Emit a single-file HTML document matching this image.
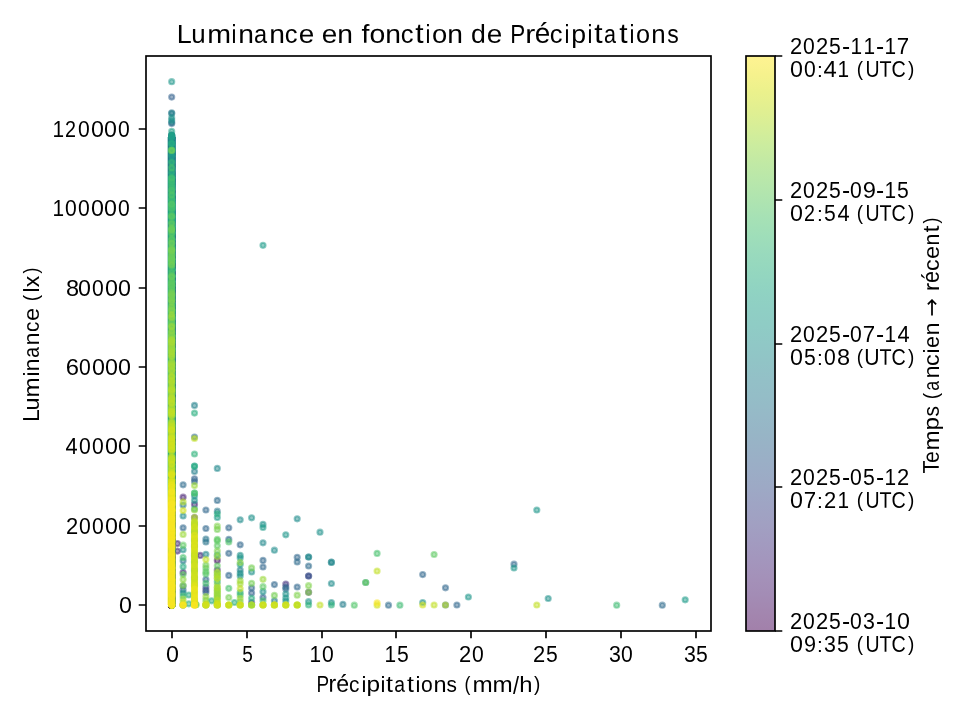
<!DOCTYPE html>
<html lang="fr"><head><meta charset="utf-8"><title>Luminance en fonction de Précipitations</title>
<style>html,body{margin:0;padding:0;background:#fff;overflow:hidden}svg{display:block}text{font-family:"Liberation Sans",sans-serif;fill:#000}</style></head><body>
<svg width="960" height="720" viewBox="0 0 960 720" style="will-change:transform">
<rect width="960" height="720" fill="#fff"/>
<defs><linearGradient id="vg" x1="0" y1="0" x2="0" y2="1"><stop offset="0.0000" stop-color="#fef392"/><stop offset="0.0312" stop-color="#f6f28d"/><stop offset="0.0625" stop-color="#ebf18c"/><stop offset="0.0938" stop-color="#e1ef91"/><stop offset="0.1250" stop-color="#d6ee98"/><stop offset="0.1562" stop-color="#cbec9f"/><stop offset="0.1875" stop-color="#c1e9a5"/><stop offset="0.2188" stop-color="#b8e7ab"/><stop offset="0.2500" stop-color="#afe4b0"/><stop offset="0.2812" stop-color="#a6e1b5"/><stop offset="0.3125" stop-color="#9fdeb9"/><stop offset="0.3438" stop-color="#99dabd"/><stop offset="0.3750" stop-color="#94d7bf"/><stop offset="0.4062" stop-color="#90d3c2"/><stop offset="0.4375" stop-color="#8fcfc4"/><stop offset="0.4688" stop-color="#8fccc5"/><stop offset="0.5000" stop-color="#90c8c6"/><stop offset="0.5312" stop-color="#91c4c6"/><stop offset="0.5625" stop-color="#93c0c7"/><stop offset="0.5938" stop-color="#94bdc7"/><stop offset="0.6250" stop-color="#96b9c7"/><stop offset="0.6562" stop-color="#97b5c6"/><stop offset="0.6875" stop-color="#99b1c6"/><stop offset="0.7188" stop-color="#9badc6"/><stop offset="0.7500" stop-color="#9da9c5"/><stop offset="0.7812" stop-color="#9fa4c4"/><stop offset="0.8125" stop-color="#a1a0c2"/><stop offset="0.8438" stop-color="#a29bc0"/><stop offset="0.8750" stop-color="#a396bd"/><stop offset="0.9062" stop-color="#a491b9"/><stop offset="0.9375" stop-color="#a38cb5"/><stop offset="0.9688" stop-color="#a386af"/><stop offset="1.0000" stop-color="#a280aa"/></linearGradient>
<clipPath id="axclip"><rect x="146" y="56" width="565" height="575"/></clipPath></defs>
<g id="pts" clip-path="url(#axclip)">
<linearGradient id="ul" gradientUnits="userSpaceOnUse" x1="0" y1="134" x2="0" y2="605"><stop offset="0.0000" stop-color="#21918c"/><stop offset="0.1401" stop-color="#1e9c89"/><stop offset="0.3524" stop-color="#26ad81"/><stop offset="0.5648" stop-color="#3bbb75"/><stop offset="0.7452" stop-color="#4ec36b"/><stop offset="0.7834" stop-color="#dfe318"/><stop offset="0.7983" stop-color="#fde725"/><stop offset="1.0000" stop-color="#fde725"/></linearGradient><rect x="167.65" y="137" width="8.2" height="468" fill="url(#ul)"/><g fill-opacity="0.5" stroke-opacity="0.5" stroke-width="2.083"><g fill="#450457" stroke="#450457"><circle cx="171.7" cy="605.0" r="2.55"/><circle cx="171.7" cy="474.6" r="2.55"/><circle cx="171.7" cy="383.4" r="2.55"/><circle cx="171.7" cy="371.8" r="2.55"/><circle cx="171.7" cy="327.1" r="2.55"/><circle cx="171.7" cy="396.8" r="2.55"/><circle cx="171.7" cy="535.3" r="2.55"/><circle cx="171.7" cy="302.4" r="2.55"/><circle cx="171.7" cy="444.5" r="2.55"/><circle cx="171.7" cy="481.8" r="2.55"/><circle cx="171.7" cy="309.7" r="2.55"/><circle cx="171.7" cy="385.6" r="2.55"/><circle cx="171.7" cy="575.9" r="2.55"/><circle cx="171.7" cy="603.2" r="2.55"/><circle cx="171.7" cy="558.3" r="2.55"/><circle cx="171.7" cy="345.0" r="2.55"/><circle cx="171.7" cy="531.1" r="2.55"/><circle cx="171.7" cy="432.6" r="2.55"/><circle cx="171.7" cy="344.2" r="2.55"/><circle cx="171.7" cy="440.6" r="2.55"/><circle cx="171.7" cy="580.6" r="2.55"/><circle cx="171.7" cy="566.0" r="2.55"/><circle cx="171.7" cy="411.7" r="2.55"/><circle cx="171.7" cy="307.4" r="2.55"/><circle cx="171.7" cy="573.3" r="2.55"/><circle cx="171.7" cy="600.6" r="2.55"/><circle cx="171.7" cy="449.2" r="2.55"/><circle cx="171.7" cy="357.8" r="2.55"/><circle cx="171.7" cy="459.3" r="2.55"/><circle cx="171.7" cy="507.8" r="2.55"/><circle cx="171.7" cy="439.3" r="2.55"/><circle cx="171.7" cy="397.7" r="2.55"/><circle cx="171.7" cy="364.0" r="2.55"/><circle cx="171.7" cy="378.6" r="2.55"/><circle cx="171.7" cy="299.0" r="2.55"/><circle cx="171.7" cy="364.8" r="2.55"/><circle cx="171.7" cy="589.9" r="2.55"/><circle cx="171.7" cy="284.3" r="2.55"/><circle cx="171.7" cy="516.8" r="2.55"/><circle cx="171.7" cy="536.7" r="2.55"/><circle cx="171.7" cy="412.1" r="2.55"/><circle cx="171.7" cy="473.5" r="2.55"/></g><g fill="#460b5e" stroke="#460b5e"><circle cx="171.7" cy="351.6" r="2.55"/><circle cx="171.7" cy="496.8" r="2.55"/><circle cx="171.7" cy="509.6" r="2.55"/><circle cx="171.7" cy="518.1" r="2.55"/><circle cx="171.7" cy="438.5" r="2.55"/><circle cx="171.7" cy="595.3" r="2.55"/><circle cx="171.7" cy="561.0" r="2.55"/><circle cx="171.7" cy="464.1" r="2.55"/><circle cx="171.7" cy="500.2" r="2.55"/><circle cx="171.7" cy="365.5" r="2.55"/><circle cx="171.7" cy="586.4" r="2.55"/><circle cx="171.7" cy="605.0" r="2.55"/><circle cx="171.7" cy="487.6" r="2.55"/><circle cx="171.7" cy="570.2" r="2.55"/><circle cx="171.7" cy="369.0" r="2.55"/><circle cx="171.7" cy="599.1" r="2.55"/><circle cx="171.7" cy="306.1" r="2.55"/><circle cx="171.7" cy="447.7" r="2.55"/><circle cx="171.7" cy="306.8" r="2.55"/><circle cx="171.7" cy="333.3" r="2.55"/><circle cx="171.7" cy="525.8" r="2.55"/><circle cx="171.7" cy="290.4" r="2.55"/><circle cx="171.7" cy="396.7" r="2.55"/><circle cx="171.7" cy="332.1" r="2.55"/><circle cx="171.7" cy="554.4" r="2.55"/><circle cx="171.7" cy="294.8" r="2.55"/><circle cx="171.7" cy="380.7" r="2.55"/><circle cx="171.7" cy="556.4" r="2.55"/><circle cx="171.7" cy="498.9" r="2.55"/><circle cx="171.7" cy="504.4" r="2.55"/><circle cx="171.7" cy="602.0" r="2.55"/><circle cx="171.7" cy="272.8" r="2.55"/><circle cx="171.7" cy="491.0" r="2.55"/><circle cx="171.7" cy="518.2" r="2.55"/><circle cx="171.7" cy="519.3" r="2.55"/><circle cx="171.7" cy="507.6" r="2.55"/><circle cx="171.7" cy="288.7" r="2.55"/><circle cx="171.7" cy="291.3" r="2.55"/><circle cx="171.7" cy="527.1" r="2.55"/><circle cx="171.7" cy="471.6" r="2.55"/><circle cx="171.7" cy="351.4" r="2.55"/><circle cx="171.7" cy="264.2" r="2.55"/><circle cx="171.7" cy="444.4" r="2.55"/><circle cx="171.7" cy="291.6" r="2.55"/><circle cx="171.7" cy="518.3" r="2.55"/></g><g fill="#471365" stroke="#471365"><circle cx="171.7" cy="377.2" r="2.55"/><circle cx="171.7" cy="538.5" r="2.55"/><circle cx="171.7" cy="291.4" r="2.55"/><circle cx="171.7" cy="429.2" r="2.55"/><circle cx="171.7" cy="292.0" r="2.55"/><circle cx="171.7" cy="528.5" r="2.55"/><circle cx="171.7" cy="451.5" r="2.55"/><circle cx="171.7" cy="337.7" r="2.55"/><circle cx="171.7" cy="592.0" r="2.55"/><circle cx="171.7" cy="493.4" r="2.55"/><circle cx="171.7" cy="372.0" r="2.55"/><circle cx="171.7" cy="554.2" r="2.55"/><circle cx="171.7" cy="387.0" r="2.55"/><circle cx="171.7" cy="584.7" r="2.55"/><circle cx="171.7" cy="355.9" r="2.55"/><circle cx="171.7" cy="599.5" r="2.55"/><circle cx="171.7" cy="272.5" r="2.55"/><circle cx="217.3" cy="560.4" r="2.55"/><circle cx="171.7" cy="510.8" r="2.55"/><circle cx="171.7" cy="353.3" r="2.55"/><circle cx="171.7" cy="400.1" r="2.55"/><circle cx="171.7" cy="475.6" r="2.55"/><circle cx="171.7" cy="605.0" r="2.55"/><circle cx="171.7" cy="264.0" r="2.55"/><circle cx="171.7" cy="326.8" r="2.55"/><circle cx="171.7" cy="283.9" r="2.55"/><circle cx="171.7" cy="511.4" r="2.55"/><circle cx="171.7" cy="325.0" r="2.55"/><circle cx="171.7" cy="423.5" r="2.55"/><circle cx="171.7" cy="362.1" r="2.55"/><circle cx="171.7" cy="328.6" r="2.55"/><circle cx="171.7" cy="581.5" r="2.55"/><circle cx="171.7" cy="426.6" r="2.55"/><circle cx="171.7" cy="478.4" r="2.55"/><circle cx="171.7" cy="497.4" r="2.55"/><circle cx="171.7" cy="539.9" r="2.55"/><circle cx="171.7" cy="336.3" r="2.55"/></g><g fill="#481a6c" stroke="#481a6c"><circle cx="171.7" cy="267.7" r="2.55"/><circle cx="171.7" cy="410.0" r="2.55"/><circle cx="171.7" cy="301.1" r="2.55"/><circle cx="171.7" cy="245.6" r="2.55"/><circle cx="171.7" cy="575.5" r="2.55"/><circle cx="171.7" cy="467.6" r="2.55"/><circle cx="171.7" cy="389.4" r="2.55"/><circle cx="171.7" cy="287.1" r="2.55"/><circle cx="171.7" cy="516.9" r="2.55"/><circle cx="171.7" cy="432.6" r="2.55"/><circle cx="171.7" cy="299.5" r="2.55"/><circle cx="171.7" cy="598.4" r="2.55"/><circle cx="171.7" cy="586.8" r="2.55"/><circle cx="171.7" cy="578.0" r="2.55"/><circle cx="171.7" cy="540.7" r="2.55"/><circle cx="171.7" cy="431.0" r="2.55"/><circle cx="171.7" cy="345.1" r="2.55"/><circle cx="171.7" cy="475.6" r="2.55"/><circle cx="171.7" cy="289.4" r="2.55"/><circle cx="171.7" cy="462.4" r="2.55"/><circle cx="171.7" cy="257.1" r="2.55"/><circle cx="171.7" cy="237.5" r="2.55"/><circle cx="171.7" cy="498.8" r="2.55"/><circle cx="171.7" cy="359.4" r="2.55"/><circle cx="171.7" cy="491.9" r="2.55"/><circle cx="171.7" cy="522.7" r="2.55"/><circle cx="171.7" cy="543.3" r="2.55"/><circle cx="171.7" cy="461.1" r="2.55"/><circle cx="171.7" cy="547.6" r="2.55"/><circle cx="171.7" cy="477.0" r="2.55"/><circle cx="171.7" cy="577.7" r="2.55"/><circle cx="171.7" cy="566.0" r="2.55"/><circle cx="171.7" cy="243.1" r="2.55"/><circle cx="171.7" cy="327.6" r="2.55"/><circle cx="171.7" cy="373.5" r="2.55"/><circle cx="171.7" cy="321.5" r="2.55"/><circle cx="171.7" cy="292.1" r="2.55"/><circle cx="171.7" cy="556.9" r="2.55"/><circle cx="171.7" cy="233.9" r="2.55"/><circle cx="171.7" cy="293.5" r="2.55"/><circle cx="171.7" cy="513.7" r="2.55"/><circle cx="171.7" cy="309.0" r="2.55"/><circle cx="171.7" cy="605.0" r="2.55"/><circle cx="171.7" cy="321.7" r="2.55"/><circle cx="171.7" cy="592.6" r="2.55"/><circle cx="171.7" cy="514.2" r="2.55"/><circle cx="171.7" cy="393.1" r="2.55"/></g><g fill="#482173" stroke="#482173"><circle cx="183.1" cy="497.2" r="2.55"/><circle cx="171.7" cy="272.4" r="2.55"/><circle cx="171.7" cy="323.1" r="2.55"/><circle cx="171.7" cy="597.7" r="2.55"/><circle cx="171.7" cy="524.2" r="2.55"/><circle cx="171.7" cy="245.1" r="2.55"/><circle cx="171.7" cy="491.3" r="2.55"/><circle cx="171.7" cy="362.6" r="2.55"/><circle cx="171.7" cy="496.1" r="2.55"/><circle cx="171.7" cy="331.0" r="2.55"/><circle cx="171.7" cy="266.3" r="2.55"/><circle cx="171.7" cy="222.9" r="2.55"/><circle cx="171.7" cy="330.5" r="2.55"/><circle cx="171.7" cy="550.4" r="2.55"/><circle cx="171.7" cy="562.4" r="2.55"/><circle cx="171.7" cy="481.0" r="2.55"/><circle cx="171.7" cy="506.3" r="2.55"/><circle cx="171.7" cy="289.5" r="2.55"/><circle cx="171.7" cy="351.9" r="2.55"/><circle cx="171.7" cy="565.5" r="2.55"/><circle cx="171.7" cy="599.6" r="2.55"/><circle cx="171.7" cy="386.6" r="2.55"/><circle cx="171.7" cy="517.0" r="2.55"/><circle cx="171.7" cy="578.9" r="2.55"/><circle cx="171.7" cy="603.8" r="2.55"/><circle cx="171.7" cy="327.6" r="2.55"/><circle cx="171.7" cy="468.3" r="2.55"/><circle cx="171.7" cy="363.4" r="2.55"/><circle cx="171.7" cy="392.9" r="2.55"/><circle cx="171.7" cy="391.6" r="2.55"/><circle cx="171.7" cy="318.7" r="2.55"/><circle cx="171.7" cy="215.7" r="2.55"/><circle cx="171.7" cy="512.2" r="2.55"/><circle cx="171.7" cy="484.1" r="2.55"/><circle cx="171.7" cy="541.6" r="2.55"/><circle cx="171.7" cy="268.2" r="2.55"/><circle cx="171.7" cy="301.2" r="2.55"/><circle cx="171.7" cy="443.7" r="2.55"/><circle cx="171.7" cy="579.6" r="2.55"/><circle cx="171.7" cy="393.1" r="2.55"/><circle cx="171.7" cy="284.1" r="2.55"/><circle cx="171.7" cy="442.3" r="2.55"/><circle cx="171.7" cy="587.9" r="2.55"/><circle cx="171.7" cy="552.0" r="2.55"/><circle cx="171.7" cy="564.4" r="2.55"/><circle cx="171.7" cy="367.7" r="2.55"/><circle cx="171.7" cy="306.9" r="2.55"/></g><g fill="#482878" stroke="#482878"><circle cx="183.1" cy="572.5" r="2.55"/><circle cx="194.5" cy="504.4" r="2.55"/><circle cx="194.5" cy="517.5" r="2.55"/><circle cx="217.3" cy="570.0" r="2.55"/><circle cx="308.6" cy="592.3" r="2.55"/><circle cx="171.7" cy="552.6" r="2.55"/><circle cx="171.7" cy="519.1" r="2.55"/><circle cx="171.7" cy="544.7" r="2.55"/><circle cx="171.7" cy="358.0" r="2.55"/><circle cx="171.7" cy="315.2" r="2.55"/><circle cx="171.7" cy="296.3" r="2.55"/><circle cx="171.7" cy="605.0" r="2.55"/><circle cx="171.7" cy="552.4" r="2.55"/><circle cx="171.7" cy="572.2" r="2.55"/><circle cx="171.7" cy="347.6" r="2.55"/><circle cx="171.7" cy="553.9" r="2.55"/><circle cx="171.7" cy="353.1" r="2.55"/><circle cx="171.7" cy="379.8" r="2.55"/><circle cx="171.7" cy="428.1" r="2.55"/><circle cx="171.7" cy="286.9" r="2.55"/><circle cx="171.7" cy="305.7" r="2.55"/><circle cx="171.7" cy="305.3" r="2.55"/><circle cx="171.7" cy="302.3" r="2.55"/><circle cx="171.7" cy="406.8" r="2.55"/><circle cx="171.7" cy="236.3" r="2.55"/><circle cx="171.7" cy="515.0" r="2.55"/><circle cx="171.7" cy="265.7" r="2.55"/><circle cx="171.7" cy="375.8" r="2.55"/><circle cx="171.7" cy="457.3" r="2.55"/><circle cx="171.7" cy="249.3" r="2.55"/><circle cx="171.7" cy="361.2" r="2.55"/><circle cx="171.7" cy="424.5" r="2.55"/><circle cx="171.7" cy="419.2" r="2.55"/><circle cx="171.7" cy="560.6" r="2.55"/><circle cx="171.7" cy="516.1" r="2.55"/><circle cx="171.7" cy="241.6" r="2.55"/><circle cx="171.7" cy="536.0" r="2.55"/><circle cx="171.7" cy="418.5" r="2.55"/><circle cx="171.7" cy="471.6" r="2.55"/><circle cx="171.7" cy="256.6" r="2.55"/><circle cx="171.7" cy="385.8" r="2.55"/><circle cx="171.7" cy="480.4" r="2.55"/><circle cx="171.7" cy="520.8" r="2.55"/><circle cx="171.7" cy="524.2" r="2.55"/></g><g fill="#472e7c" stroke="#472e7c"><circle cx="177.4" cy="543.6" r="2.55"/><circle cx="177.4" cy="551.1" r="2.55"/><circle cx="200.2" cy="555.4" r="2.55"/><circle cx="171.7" cy="278.8" r="2.55"/><circle cx="171.7" cy="535.2" r="2.55"/><circle cx="171.7" cy="424.7" r="2.55"/><circle cx="171.7" cy="466.5" r="2.55"/><circle cx="171.7" cy="542.9" r="2.55"/><circle cx="171.7" cy="356.3" r="2.55"/><circle cx="171.7" cy="571.4" r="2.55"/><circle cx="171.7" cy="555.3" r="2.55"/><circle cx="171.7" cy="524.5" r="2.55"/><circle cx="171.7" cy="345.0" r="2.55"/><circle cx="171.7" cy="407.1" r="2.55"/><circle cx="171.7" cy="258.2" r="2.55"/><circle cx="171.7" cy="504.1" r="2.55"/><circle cx="171.7" cy="559.2" r="2.55"/><circle cx="171.7" cy="252.6" r="2.55"/><circle cx="171.7" cy="497.8" r="2.55"/><circle cx="171.7" cy="476.5" r="2.55"/><circle cx="171.7" cy="200.2" r="2.55"/><circle cx="171.7" cy="570.1" r="2.55"/><circle cx="171.7" cy="386.0" r="2.55"/><circle cx="171.7" cy="297.6" r="2.55"/><circle cx="171.7" cy="196.8" r="2.55"/><circle cx="171.7" cy="513.2" r="2.55"/><circle cx="171.7" cy="326.1" r="2.55"/><circle cx="171.7" cy="400.0" r="2.55"/><circle cx="171.7" cy="605.0" r="2.55"/><circle cx="171.7" cy="265.4" r="2.55"/><circle cx="171.7" cy="439.3" r="2.55"/><circle cx="171.7" cy="350.7" r="2.55"/><circle cx="171.7" cy="523.4" r="2.55"/><circle cx="171.7" cy="464.1" r="2.55"/><circle cx="171.7" cy="487.4" r="2.55"/><circle cx="171.7" cy="288.4" r="2.55"/><circle cx="171.7" cy="209.0" r="2.55"/><circle cx="171.7" cy="554.2" r="2.55"/><circle cx="171.7" cy="577.8" r="2.55"/><circle cx="171.7" cy="454.0" r="2.55"/><circle cx="171.7" cy="571.8" r="2.55"/><circle cx="171.7" cy="480.4" r="2.55"/><circle cx="171.7" cy="437.6" r="2.55"/><circle cx="171.7" cy="358.3" r="2.55"/><circle cx="171.7" cy="331.2" r="2.55"/><circle cx="171.7" cy="387.9" r="2.55"/><circle cx="171.7" cy="274.0" r="2.55"/><circle cx="171.7" cy="361.2" r="2.55"/><circle cx="171.7" cy="395.1" r="2.55"/><circle cx="171.7" cy="191.9" r="2.55"/><circle cx="171.7" cy="346.4" r="2.55"/><circle cx="171.7" cy="299.9" r="2.55"/><circle cx="171.7" cy="448.9" r="2.55"/><circle cx="171.7" cy="524.7" r="2.55"/><circle cx="171.7" cy="440.4" r="2.55"/><circle cx="171.7" cy="461.5" r="2.55"/><circle cx="171.7" cy="440.0" r="2.55"/><circle cx="171.7" cy="287.1" r="2.55"/><circle cx="171.7" cy="338.2" r="2.55"/><circle cx="171.7" cy="538.3" r="2.55"/><circle cx="171.7" cy="581.9" r="2.55"/></g><g fill="#463480" stroke="#463480"><circle cx="171.7" cy="254.2" r="2.55"/><circle cx="171.7" cy="180.7" r="2.55"/><circle cx="171.7" cy="588.5" r="2.55"/><circle cx="171.7" cy="544.7" r="2.55"/><circle cx="171.7" cy="436.5" r="2.55"/><circle cx="171.7" cy="526.3" r="2.55"/><circle cx="171.7" cy="430.7" r="2.55"/><circle cx="171.7" cy="564.1" r="2.55"/><circle cx="171.7" cy="278.7" r="2.55"/><circle cx="171.7" cy="365.2" r="2.55"/><circle cx="171.7" cy="462.8" r="2.55"/><circle cx="171.7" cy="266.4" r="2.55"/><circle cx="171.7" cy="481.8" r="2.55"/><circle cx="171.7" cy="286.0" r="2.55"/><circle cx="171.7" cy="479.5" r="2.55"/><circle cx="171.7" cy="520.2" r="2.55"/><circle cx="171.7" cy="355.5" r="2.55"/><circle cx="205.9" cy="590.0" r="2.55"/><circle cx="285.8" cy="584.0" r="2.55"/><circle cx="171.7" cy="600.7" r="2.55"/><circle cx="171.7" cy="445.0" r="2.55"/><circle cx="171.7" cy="499.2" r="2.55"/><circle cx="171.7" cy="179.3" r="2.55"/><circle cx="171.7" cy="219.1" r="2.55"/><circle cx="171.7" cy="479.2" r="2.55"/><circle cx="171.7" cy="580.2" r="2.55"/><circle cx="171.7" cy="605.0" r="2.55"/><circle cx="171.7" cy="442.7" r="2.55"/><circle cx="171.7" cy="566.9" r="2.55"/><circle cx="171.7" cy="194.0" r="2.55"/><circle cx="171.7" cy="557.7" r="2.55"/><circle cx="171.7" cy="551.4" r="2.55"/><circle cx="171.7" cy="442.7" r="2.55"/><circle cx="171.7" cy="355.2" r="2.55"/><circle cx="171.7" cy="475.7" r="2.55"/><circle cx="171.7" cy="273.5" r="2.55"/><circle cx="171.7" cy="459.0" r="2.55"/></g><g fill="#443a83" stroke="#443a83"><circle cx="171.7" cy="470.5" r="2.55"/><circle cx="171.7" cy="402.5" r="2.55"/><circle cx="171.7" cy="279.2" r="2.55"/><circle cx="171.7" cy="165.6" r="2.55"/><circle cx="171.7" cy="250.8" r="2.55"/><circle cx="171.7" cy="531.8" r="2.55"/><circle cx="171.7" cy="257.9" r="2.55"/><circle cx="171.7" cy="197.1" r="2.55"/><circle cx="171.7" cy="272.9" r="2.55"/><circle cx="171.7" cy="393.0" r="2.55"/><circle cx="171.7" cy="422.5" r="2.55"/><circle cx="171.7" cy="550.8" r="2.55"/><circle cx="171.7" cy="540.7" r="2.55"/><circle cx="171.7" cy="591.2" r="2.55"/><circle cx="171.7" cy="553.7" r="2.55"/><circle cx="171.7" cy="361.4" r="2.55"/><circle cx="171.7" cy="224.6" r="2.55"/><circle cx="171.7" cy="585.4" r="2.55"/><circle cx="171.7" cy="263.0" r="2.55"/><circle cx="171.7" cy="437.2" r="2.55"/><circle cx="171.7" cy="278.3" r="2.55"/><circle cx="171.7" cy="523.2" r="2.55"/><circle cx="171.7" cy="248.1" r="2.55"/><circle cx="171.7" cy="346.2" r="2.55"/><circle cx="171.7" cy="256.0" r="2.55"/><circle cx="171.7" cy="542.6" r="2.55"/><circle cx="171.7" cy="434.6" r="2.55"/><circle cx="171.7" cy="439.7" r="2.55"/><circle cx="171.7" cy="297.3" r="2.55"/><circle cx="171.7" cy="235.3" r="2.55"/><circle cx="171.7" cy="540.9" r="2.55"/><circle cx="171.7" cy="499.2" r="2.55"/><circle cx="171.7" cy="485.7" r="2.55"/><circle cx="171.7" cy="603.7" r="2.55"/><circle cx="171.7" cy="406.9" r="2.55"/><circle cx="171.7" cy="235.5" r="2.55"/><circle cx="171.7" cy="429.2" r="2.55"/><circle cx="171.7" cy="283.6" r="2.55"/><circle cx="171.7" cy="385.3" r="2.55"/><circle cx="171.7" cy="361.1" r="2.55"/><circle cx="171.7" cy="408.1" r="2.55"/><circle cx="171.7" cy="605.0" r="2.55"/></g><g fill="#424086" stroke="#424086"><circle cx="171.7" cy="569.5" r="2.55"/><circle cx="171.7" cy="519.2" r="2.55"/><circle cx="171.7" cy="340.0" r="2.55"/><circle cx="171.7" cy="522.2" r="2.55"/><circle cx="171.7" cy="541.7" r="2.55"/><circle cx="171.7" cy="502.5" r="2.55"/><circle cx="171.7" cy="401.5" r="2.55"/><circle cx="171.7" cy="559.3" r="2.55"/><circle cx="171.7" cy="374.5" r="2.55"/><circle cx="171.7" cy="199.2" r="2.55"/><circle cx="171.7" cy="274.6" r="2.55"/><circle cx="171.7" cy="449.5" r="2.55"/><circle cx="171.7" cy="322.8" r="2.55"/><circle cx="171.7" cy="342.5" r="2.55"/><circle cx="171.7" cy="332.9" r="2.55"/><circle cx="171.7" cy="237.2" r="2.55"/><circle cx="171.7" cy="192.1" r="2.55"/><circle cx="171.7" cy="171.8" r="2.55"/><circle cx="171.7" cy="455.7" r="2.55"/><circle cx="171.7" cy="296.7" r="2.55"/><circle cx="171.7" cy="357.1" r="2.55"/><circle cx="171.7" cy="575.4" r="2.55"/><circle cx="171.7" cy="434.5" r="2.55"/><circle cx="171.7" cy="518.5" r="2.55"/><circle cx="171.7" cy="496.3" r="2.55"/><circle cx="171.7" cy="583.8" r="2.55"/><circle cx="171.7" cy="177.9" r="2.55"/><circle cx="171.7" cy="323.1" r="2.55"/><circle cx="171.7" cy="581.9" r="2.55"/><circle cx="171.7" cy="359.4" r="2.55"/><circle cx="171.7" cy="581.1" r="2.55"/><circle cx="171.7" cy="231.1" r="2.55"/><circle cx="171.7" cy="173.5" r="2.55"/><circle cx="171.7" cy="557.0" r="2.55"/><circle cx="171.7" cy="334.3" r="2.55"/><circle cx="171.7" cy="378.8" r="2.55"/><circle cx="171.7" cy="575.7" r="2.55"/><circle cx="171.7" cy="245.6" r="2.55"/><circle cx="171.7" cy="590.4" r="2.55"/><circle cx="171.7" cy="326.9" r="2.55"/><circle cx="171.7" cy="258.1" r="2.55"/><circle cx="171.7" cy="251.5" r="2.55"/><circle cx="171.7" cy="382.8" r="2.55"/><circle cx="171.7" cy="359.1" r="2.55"/><circle cx="171.7" cy="552.4" r="2.55"/><circle cx="171.7" cy="166.8" r="2.55"/><circle cx="171.7" cy="163.6" r="2.55"/><circle cx="171.7" cy="213.8" r="2.55"/><circle cx="171.7" cy="422.9" r="2.55"/><circle cx="171.7" cy="504.0" r="2.55"/><circle cx="171.7" cy="364.6" r="2.55"/><circle cx="171.7" cy="426.3" r="2.55"/></g><g fill="#404688" stroke="#404688"><circle cx="251.6" cy="602.5" r="2.55"/><circle cx="171.7" cy="439.5" r="2.55"/><circle cx="171.7" cy="150.9" r="2.55"/><circle cx="171.7" cy="256.0" r="2.55"/><circle cx="171.7" cy="604.0" r="2.55"/><circle cx="171.7" cy="295.1" r="2.55"/><circle cx="171.7" cy="580.3" r="2.55"/><circle cx="171.7" cy="369.9" r="2.55"/><circle cx="171.7" cy="245.0" r="2.55"/><circle cx="171.7" cy="143.0" r="2.55"/><circle cx="171.7" cy="242.6" r="2.55"/><circle cx="171.7" cy="290.7" r="2.55"/><circle cx="171.7" cy="345.3" r="2.55"/><circle cx="171.7" cy="348.9" r="2.55"/><circle cx="171.7" cy="395.8" r="2.55"/><circle cx="171.7" cy="361.4" r="2.55"/><circle cx="171.7" cy="156.9" r="2.55"/><circle cx="171.7" cy="265.3" r="2.55"/><circle cx="171.7" cy="587.4" r="2.55"/><circle cx="171.7" cy="605.0" r="2.55"/><circle cx="171.7" cy="154.3" r="2.55"/><circle cx="171.7" cy="481.8" r="2.55"/><circle cx="171.7" cy="362.3" r="2.55"/><circle cx="171.7" cy="469.1" r="2.55"/><circle cx="171.7" cy="295.6" r="2.55"/><circle cx="171.7" cy="313.0" r="2.55"/><circle cx="171.7" cy="380.9" r="2.55"/><circle cx="171.7" cy="563.1" r="2.55"/><circle cx="171.7" cy="293.5" r="2.55"/><circle cx="171.7" cy="181.1" r="2.55"/><circle cx="171.7" cy="158.8" r="2.55"/><circle cx="171.7" cy="550.1" r="2.55"/><circle cx="171.7" cy="286.6" r="2.55"/><circle cx="171.7" cy="196.4" r="2.55"/><circle cx="171.7" cy="417.7" r="2.55"/><circle cx="171.7" cy="533.0" r="2.55"/><circle cx="171.7" cy="419.1" r="2.55"/><circle cx="171.7" cy="211.3" r="2.55"/><circle cx="171.7" cy="329.2" r="2.55"/><circle cx="171.7" cy="264.5" r="2.55"/><circle cx="171.7" cy="148.5" r="2.55"/><circle cx="171.7" cy="589.1" r="2.55"/><circle cx="171.7" cy="353.9" r="2.55"/><circle cx="171.7" cy="203.3" r="2.55"/><circle cx="171.7" cy="551.6" r="2.55"/><circle cx="171.7" cy="598.1" r="2.55"/><circle cx="171.7" cy="519.5" r="2.55"/><circle cx="171.7" cy="258.3" r="2.55"/><circle cx="171.7" cy="229.0" r="2.55"/></g><g fill="#3e4c8a" stroke="#3e4c8a"><circle cx="308.6" cy="576.0" r="2.55"/><circle cx="171.7" cy="384.4" r="2.55"/><circle cx="171.7" cy="411.5" r="2.55"/><circle cx="171.7" cy="548.5" r="2.55"/><circle cx="171.7" cy="589.8" r="2.55"/><circle cx="171.7" cy="563.4" r="2.55"/><circle cx="171.7" cy="299.1" r="2.55"/><circle cx="171.7" cy="412.3" r="2.55"/><circle cx="171.7" cy="197.6" r="2.55"/><circle cx="171.7" cy="381.3" r="2.55"/><circle cx="171.7" cy="172.8" r="2.55"/><circle cx="171.7" cy="191.6" r="2.55"/><circle cx="171.7" cy="196.5" r="2.55"/><circle cx="171.7" cy="280.0" r="2.55"/><circle cx="171.7" cy="283.8" r="2.55"/><circle cx="171.7" cy="467.8" r="2.55"/><circle cx="171.7" cy="605.0" r="2.55"/><circle cx="171.7" cy="175.1" r="2.55"/><circle cx="171.7" cy="191.4" r="2.55"/><circle cx="171.7" cy="445.1" r="2.55"/><circle cx="171.7" cy="452.7" r="2.55"/><circle cx="171.7" cy="470.2" r="2.55"/><circle cx="171.7" cy="474.7" r="2.55"/><circle cx="171.7" cy="448.1" r="2.55"/><circle cx="171.7" cy="396.7" r="2.55"/><circle cx="171.7" cy="484.6" r="2.55"/><circle cx="171.7" cy="177.4" r="2.55"/><circle cx="171.7" cy="237.9" r="2.55"/><circle cx="171.7" cy="484.6" r="2.55"/><circle cx="171.7" cy="228.9" r="2.55"/><circle cx="171.7" cy="386.4" r="2.55"/><circle cx="171.7" cy="260.4" r="2.55"/><circle cx="171.7" cy="340.0" r="2.55"/><circle cx="171.7" cy="527.7" r="2.55"/></g><g fill="#3b528b" stroke="#3b528b"><circle cx="308.6" cy="576.0" r="2.55"/><circle cx="171.7" cy="446.9" r="2.55"/><circle cx="171.7" cy="346.4" r="2.55"/><circle cx="171.7" cy="266.4" r="2.55"/><circle cx="171.7" cy="514.1" r="2.55"/><circle cx="171.7" cy="445.1" r="2.55"/><circle cx="171.7" cy="343.8" r="2.55"/><circle cx="171.7" cy="544.0" r="2.55"/><circle cx="171.7" cy="461.6" r="2.55"/><circle cx="171.7" cy="595.9" r="2.55"/><circle cx="171.7" cy="448.4" r="2.55"/><circle cx="171.7" cy="558.3" r="2.55"/><circle cx="171.7" cy="395.3" r="2.55"/><circle cx="171.7" cy="469.7" r="2.55"/><circle cx="171.7" cy="531.5" r="2.55"/><circle cx="171.7" cy="180.7" r="2.55"/><circle cx="171.7" cy="359.7" r="2.55"/><circle cx="171.7" cy="421.0" r="2.55"/><circle cx="171.7" cy="165.4" r="2.55"/><circle cx="171.7" cy="506.7" r="2.55"/><circle cx="171.7" cy="472.3" r="2.55"/><circle cx="171.7" cy="575.2" r="2.55"/><circle cx="171.7" cy="311.9" r="2.55"/><circle cx="171.7" cy="357.2" r="2.55"/><circle cx="171.7" cy="563.9" r="2.55"/><circle cx="171.7" cy="330.2" r="2.55"/><circle cx="171.7" cy="527.6" r="2.55"/><circle cx="171.7" cy="334.8" r="2.55"/><circle cx="171.7" cy="295.7" r="2.55"/><circle cx="171.7" cy="267.5" r="2.55"/><circle cx="171.7" cy="237.7" r="2.55"/><circle cx="171.7" cy="339.4" r="2.55"/><circle cx="171.7" cy="213.4" r="2.55"/><circle cx="171.7" cy="524.6" r="2.55"/><circle cx="171.7" cy="593.1" r="2.55"/><circle cx="171.7" cy="183.3" r="2.55"/><circle cx="171.7" cy="163.4" r="2.55"/><circle cx="171.7" cy="605.0" r="2.55"/><circle cx="171.7" cy="139.5" r="2.55"/><circle cx="171.7" cy="573.3" r="2.55"/><circle cx="171.7" cy="172.2" r="2.55"/><circle cx="171.7" cy="455.5" r="2.55"/><circle cx="171.7" cy="279.7" r="2.55"/><circle cx="171.7" cy="230.3" r="2.55"/><circle cx="171.7" cy="252.8" r="2.55"/><circle cx="171.7" cy="460.0" r="2.55"/><circle cx="171.7" cy="145.9" r="2.55"/><circle cx="171.7" cy="541.8" r="2.55"/></g><g fill="#38588c" stroke="#38588c"><circle cx="171.7" cy="402.9" r="2.55"/><circle cx="171.7" cy="247.6" r="2.55"/><circle cx="171.7" cy="234.8" r="2.55"/><circle cx="171.7" cy="443.5" r="2.55"/><circle cx="171.7" cy="431.6" r="2.55"/><circle cx="171.7" cy="286.0" r="2.55"/><circle cx="171.7" cy="293.4" r="2.55"/><circle cx="171.7" cy="354.0" r="2.55"/><circle cx="171.7" cy="563.1" r="2.55"/><circle cx="171.7" cy="389.0" r="2.55"/><circle cx="171.7" cy="530.2" r="2.55"/><circle cx="171.7" cy="436.9" r="2.55"/><circle cx="171.7" cy="400.1" r="2.55"/><circle cx="171.7" cy="366.2" r="2.55"/><circle cx="171.7" cy="455.5" r="2.55"/><circle cx="171.7" cy="367.0" r="2.55"/><circle cx="171.7" cy="476.7" r="2.55"/><circle cx="171.7" cy="222.1" r="2.55"/><circle cx="171.7" cy="287.8" r="2.55"/><circle cx="171.7" cy="545.6" r="2.55"/><circle cx="171.7" cy="321.9" r="2.55"/><circle cx="171.7" cy="531.5" r="2.55"/><circle cx="171.7" cy="576.0" r="2.55"/><circle cx="171.7" cy="407.6" r="2.55"/><circle cx="171.7" cy="184.5" r="2.55"/><circle cx="171.7" cy="491.2" r="2.55"/><circle cx="171.7" cy="448.5" r="2.55"/><circle cx="171.7" cy="272.9" r="2.55"/><circle cx="171.7" cy="540.8" r="2.55"/><circle cx="171.7" cy="362.7" r="2.55"/><circle cx="171.7" cy="163.3" r="2.55"/><circle cx="171.7" cy="168.4" r="2.55"/><circle cx="171.7" cy="243.5" r="2.55"/><circle cx="171.7" cy="422.2" r="2.55"/><circle cx="171.7" cy="518.4" r="2.55"/><circle cx="171.7" cy="182.8" r="2.55"/><circle cx="171.7" cy="146.7" r="2.55"/><circle cx="171.7" cy="428.1" r="2.55"/><circle cx="171.7" cy="328.1" r="2.55"/><circle cx="171.7" cy="343.2" r="2.55"/><circle cx="171.7" cy="520.9" r="2.55"/><circle cx="171.7" cy="567.0" r="2.55"/><circle cx="171.7" cy="589.6" r="2.55"/><circle cx="171.7" cy="501.4" r="2.55"/></g><g fill="#365d8d" stroke="#365d8d"><circle cx="205.9" cy="587.0" r="2.55"/><circle cx="171.7" cy="137.5" r="2.55"/><circle cx="171.7" cy="206.5" r="2.55"/><circle cx="171.7" cy="411.4" r="2.55"/><circle cx="171.7" cy="584.0" r="2.55"/><circle cx="171.7" cy="174.1" r="2.55"/><circle cx="171.7" cy="377.4" r="2.55"/><circle cx="171.7" cy="605.0" r="2.55"/><circle cx="171.7" cy="321.8" r="2.55"/><circle cx="171.7" cy="326.7" r="2.55"/><circle cx="171.7" cy="261.8" r="2.55"/><circle cx="171.7" cy="262.8" r="2.55"/><circle cx="171.7" cy="247.5" r="2.55"/><circle cx="171.7" cy="184.1" r="2.55"/><circle cx="171.7" cy="395.7" r="2.55"/><circle cx="171.7" cy="345.0" r="2.55"/><circle cx="171.7" cy="470.2" r="2.55"/><circle cx="171.7" cy="435.9" r="2.55"/><circle cx="171.7" cy="582.8" r="2.55"/><circle cx="171.7" cy="294.9" r="2.55"/><circle cx="171.7" cy="549.8" r="2.55"/><circle cx="171.7" cy="316.0" r="2.55"/><circle cx="171.7" cy="445.6" r="2.55"/><circle cx="171.7" cy="513.4" r="2.55"/><circle cx="171.7" cy="321.7" r="2.55"/><circle cx="171.7" cy="344.8" r="2.55"/><circle cx="171.7" cy="431.8" r="2.55"/><circle cx="171.7" cy="187.3" r="2.55"/><circle cx="171.7" cy="385.0" r="2.55"/><circle cx="171.7" cy="179.8" r="2.55"/><circle cx="171.7" cy="240.8" r="2.55"/><circle cx="171.7" cy="427.9" r="2.55"/><circle cx="171.7" cy="591.9" r="2.55"/><circle cx="171.7" cy="604.7" r="2.55"/><circle cx="171.7" cy="257.5" r="2.55"/><circle cx="171.7" cy="203.8" r="2.55"/><circle cx="171.7" cy="378.7" r="2.55"/><circle cx="171.7" cy="342.4" r="2.55"/><circle cx="171.7" cy="313.3" r="2.55"/><circle cx="171.7" cy="496.2" r="2.55"/><circle cx="171.7" cy="468.5" r="2.55"/><circle cx="171.7" cy="399.0" r="2.55"/><circle cx="171.7" cy="427.0" r="2.55"/><circle cx="171.7" cy="408.4" r="2.55"/><circle cx="171.7" cy="453.1" r="2.55"/><circle cx="171.7" cy="571.1" r="2.55"/><circle cx="171.7" cy="579.9" r="2.55"/><circle cx="171.7" cy="595.4" r="2.55"/><circle cx="171.7" cy="539.0" r="2.55"/><circle cx="171.7" cy="183.9" r="2.55"/><circle cx="171.7" cy="347.1" r="2.55"/><circle cx="171.7" cy="502.3" r="2.55"/><circle cx="171.7" cy="273.1" r="2.55"/><circle cx="171.7" cy="420.0" r="2.55"/><circle cx="171.7" cy="160.5" r="2.55"/></g><g fill="#33628d" stroke="#33628d"><circle cx="183.1" cy="605.0" r="2.55"/><circle cx="194.5" cy="478.8" r="2.55"/><circle cx="194.5" cy="546.0" r="2.55"/><circle cx="251.6" cy="593.0" r="2.55"/><circle cx="263.0" cy="597.5" r="2.55"/><circle cx="285.8" cy="587.0" r="2.55"/><circle cx="445.5" cy="605.0" r="2.55"/><circle cx="171.7" cy="97.1" r="2.55"/><circle cx="171.7" cy="230.3" r="2.55"/><circle cx="171.7" cy="322.8" r="2.55"/><circle cx="171.7" cy="167.5" r="2.55"/><circle cx="171.7" cy="334.1" r="2.55"/><circle cx="171.7" cy="242.8" r="2.55"/><circle cx="171.7" cy="540.0" r="2.55"/><circle cx="171.7" cy="284.5" r="2.55"/><circle cx="171.7" cy="313.6" r="2.55"/><circle cx="171.7" cy="511.9" r="2.55"/><circle cx="171.7" cy="397.8" r="2.55"/><circle cx="171.7" cy="158.1" r="2.55"/><circle cx="171.7" cy="236.9" r="2.55"/><circle cx="171.7" cy="421.9" r="2.55"/><circle cx="171.7" cy="228.3" r="2.55"/><circle cx="171.7" cy="251.3" r="2.55"/><circle cx="171.7" cy="427.6" r="2.55"/><circle cx="171.7" cy="367.2" r="2.55"/><circle cx="171.7" cy="261.1" r="2.55"/><circle cx="171.7" cy="397.6" r="2.55"/><circle cx="171.7" cy="605.0" r="2.55"/><circle cx="171.7" cy="432.7" r="2.55"/><circle cx="171.7" cy="153.0" r="2.55"/><circle cx="171.7" cy="263.3" r="2.55"/><circle cx="171.7" cy="279.3" r="2.55"/><circle cx="171.7" cy="547.9" r="2.55"/><circle cx="171.7" cy="158.6" r="2.55"/><circle cx="171.7" cy="297.8" r="2.55"/><circle cx="171.7" cy="226.0" r="2.55"/><circle cx="171.7" cy="461.6" r="2.55"/><circle cx="171.7" cy="516.2" r="2.55"/><circle cx="171.7" cy="161.5" r="2.55"/><circle cx="171.7" cy="540.7" r="2.55"/><circle cx="171.7" cy="461.9" r="2.55"/><circle cx="171.7" cy="236.6" r="2.55"/><circle cx="171.7" cy="565.4" r="2.55"/><circle cx="171.7" cy="272.4" r="2.55"/><circle cx="171.7" cy="505.5" r="2.55"/><circle cx="171.7" cy="169.8" r="2.55"/><circle cx="171.7" cy="349.1" r="2.55"/><circle cx="171.7" cy="372.5" r="2.55"/><circle cx="171.7" cy="556.3" r="2.55"/><circle cx="171.7" cy="528.1" r="2.55"/><circle cx="171.7" cy="391.6" r="2.55"/><circle cx="171.7" cy="158.7" r="2.55"/><circle cx="171.7" cy="336.8" r="2.55"/><circle cx="171.7" cy="311.1" r="2.55"/><circle cx="171.7" cy="602.9" r="2.55"/><circle cx="171.7" cy="454.8" r="2.55"/><circle cx="171.7" cy="325.1" r="2.55"/></g><g fill="#31678e" stroke="#31678e"><circle cx="171.7" cy="306.1" r="2.55"/><circle cx="171.7" cy="495.6" r="2.55"/><circle cx="171.7" cy="179.6" r="2.55"/><circle cx="171.7" cy="518.9" r="2.55"/><circle cx="171.7" cy="450.2" r="2.55"/><circle cx="171.7" cy="339.3" r="2.55"/><circle cx="171.7" cy="468.7" r="2.55"/><circle cx="171.7" cy="321.7" r="2.55"/><circle cx="171.7" cy="201.9" r="2.55"/><circle cx="171.7" cy="330.7" r="2.55"/><circle cx="171.7" cy="158.7" r="2.55"/><circle cx="171.7" cy="175.5" r="2.55"/><circle cx="171.7" cy="341.1" r="2.55"/><circle cx="171.7" cy="522.7" r="2.55"/><circle cx="171.7" cy="230.3" r="2.55"/><circle cx="171.7" cy="370.1" r="2.55"/><circle cx="171.7" cy="595.1" r="2.55"/><circle cx="171.7" cy="523.8" r="2.55"/><circle cx="171.7" cy="558.9" r="2.55"/><circle cx="171.7" cy="452.1" r="2.55"/><circle cx="171.7" cy="411.7" r="2.55"/><circle cx="171.7" cy="408.3" r="2.55"/><circle cx="171.7" cy="417.4" r="2.55"/><circle cx="183.1" cy="527.8" r="2.55"/><circle cx="194.5" cy="481.5" r="2.55"/><circle cx="205.9" cy="510.0" r="2.55"/><circle cx="205.9" cy="528.5" r="2.55"/><circle cx="205.9" cy="579.6" r="2.55"/><circle cx="228.8" cy="527.8" r="2.55"/><circle cx="228.8" cy="553.3" r="2.55"/><circle cx="228.8" cy="575.4" r="2.55"/><circle cx="240.2" cy="544.8" r="2.55"/><circle cx="251.6" cy="588.0" r="2.55"/><circle cx="263.0" cy="560.4" r="2.55"/><circle cx="263.0" cy="567.0" r="2.55"/><circle cx="274.4" cy="584.6" r="2.55"/><circle cx="297.2" cy="557.3" r="2.55"/><circle cx="297.2" cy="587.0" r="2.55"/><circle cx="422.7" cy="574.6" r="2.55"/><circle cx="445.5" cy="587.8" r="2.55"/><circle cx="456.9" cy="605.0" r="2.55"/><circle cx="514.0" cy="564.2" r="2.55"/><circle cx="171.7" cy="123.6" r="2.55"/><circle cx="171.7" cy="353.3" r="2.55"/><circle cx="171.7" cy="304.2" r="2.55"/><circle cx="171.7" cy="246.8" r="2.55"/><circle cx="171.7" cy="165.2" r="2.55"/><circle cx="171.7" cy="308.2" r="2.55"/><circle cx="171.7" cy="496.7" r="2.55"/><circle cx="171.7" cy="394.5" r="2.55"/><circle cx="171.7" cy="211.7" r="2.55"/><circle cx="171.7" cy="517.6" r="2.55"/><circle cx="171.7" cy="154.0" r="2.55"/><circle cx="171.7" cy="572.6" r="2.55"/><circle cx="171.7" cy="441.2" r="2.55"/><circle cx="171.7" cy="605.0" r="2.55"/><circle cx="171.7" cy="396.2" r="2.55"/><circle cx="171.7" cy="328.6" r="2.55"/><circle cx="171.7" cy="522.7" r="2.55"/><circle cx="171.7" cy="137.7" r="2.55"/><circle cx="171.7" cy="142.0" r="2.55"/><circle cx="171.7" cy="379.3" r="2.55"/><circle cx="171.7" cy="274.3" r="2.55"/><circle cx="171.7" cy="323.4" r="2.55"/><circle cx="171.7" cy="387.0" r="2.55"/><circle cx="171.7" cy="155.1" r="2.55"/><circle cx="171.7" cy="597.0" r="2.55"/><circle cx="171.7" cy="453.3" r="2.55"/><circle cx="171.7" cy="181.0" r="2.55"/><circle cx="171.7" cy="482.0" r="2.55"/><circle cx="171.7" cy="385.2" r="2.55"/><circle cx="171.7" cy="457.7" r="2.55"/><circle cx="171.7" cy="481.6" r="2.55"/></g><g fill="#2f6c8e" stroke="#2f6c8e"><circle cx="171.7" cy="600.9" r="2.55"/><circle cx="171.7" cy="190.2" r="2.55"/><circle cx="171.7" cy="603.2" r="2.55"/><circle cx="171.7" cy="358.9" r="2.55"/><circle cx="171.7" cy="229.0" r="2.55"/><circle cx="171.7" cy="310.3" r="2.55"/><circle cx="171.7" cy="305.9" r="2.55"/><circle cx="171.7" cy="555.8" r="2.55"/><circle cx="171.7" cy="381.2" r="2.55"/><circle cx="171.7" cy="165.9" r="2.55"/><circle cx="171.7" cy="470.8" r="2.55"/><circle cx="171.7" cy="368.7" r="2.55"/><circle cx="171.7" cy="517.8" r="2.55"/><circle cx="171.7" cy="156.4" r="2.55"/><circle cx="171.7" cy="541.5" r="2.55"/><circle cx="171.7" cy="554.6" r="2.55"/><circle cx="171.7" cy="138.4" r="2.55"/><circle cx="171.7" cy="358.9" r="2.55"/><circle cx="171.7" cy="191.7" r="2.55"/><circle cx="171.7" cy="383.6" r="2.55"/><circle cx="183.1" cy="484.8" r="2.55"/><circle cx="183.1" cy="586.0" r="2.55"/><circle cx="183.1" cy="590.0" r="2.55"/><circle cx="194.5" cy="437.0" r="2.55"/><circle cx="205.9" cy="592.5" r="2.55"/><circle cx="217.3" cy="500.4" r="2.55"/><circle cx="228.8" cy="539.4" r="2.55"/><circle cx="285.8" cy="589.0" r="2.55"/><circle cx="297.2" cy="562.0" r="2.55"/><circle cx="308.6" cy="566.0" r="2.55"/><circle cx="388.5" cy="605.2" r="2.55"/><circle cx="662.3" cy="605.2" r="2.55"/><circle cx="171.7" cy="176.5" r="2.55"/><circle cx="171.7" cy="551.9" r="2.55"/><circle cx="171.7" cy="220.9" r="2.55"/><circle cx="171.7" cy="448.9" r="2.55"/><circle cx="171.7" cy="442.0" r="2.55"/><circle cx="171.7" cy="285.4" r="2.55"/><circle cx="171.7" cy="235.4" r="2.55"/><circle cx="171.7" cy="565.1" r="2.55"/><circle cx="171.7" cy="153.2" r="2.55"/><circle cx="171.7" cy="254.1" r="2.55"/><circle cx="171.7" cy="288.2" r="2.55"/><circle cx="171.7" cy="409.4" r="2.55"/><circle cx="171.7" cy="308.2" r="2.55"/><circle cx="171.7" cy="186.9" r="2.55"/><circle cx="171.7" cy="605.0" r="2.55"/><circle cx="171.7" cy="402.8" r="2.55"/></g><g fill="#2d718e" stroke="#2d718e"><circle cx="171.7" cy="475.2" r="2.55"/><circle cx="171.7" cy="466.1" r="2.55"/><circle cx="171.7" cy="364.9" r="2.55"/><circle cx="171.7" cy="278.9" r="2.55"/><circle cx="171.7" cy="139.3" r="2.55"/><circle cx="171.7" cy="385.2" r="2.55"/><circle cx="171.7" cy="430.2" r="2.55"/><circle cx="171.7" cy="342.1" r="2.55"/><circle cx="171.7" cy="585.8" r="2.55"/><circle cx="171.7" cy="229.7" r="2.55"/><circle cx="171.7" cy="517.5" r="2.55"/><circle cx="171.7" cy="472.7" r="2.55"/><circle cx="171.7" cy="557.6" r="2.55"/><circle cx="171.7" cy="569.5" r="2.55"/><circle cx="171.7" cy="245.9" r="2.55"/><circle cx="171.7" cy="568.2" r="2.55"/><circle cx="171.7" cy="324.2" r="2.55"/><circle cx="171.7" cy="454.0" r="2.55"/><circle cx="171.7" cy="582.8" r="2.55"/><circle cx="171.7" cy="414.6" r="2.55"/><circle cx="171.7" cy="408.8" r="2.55"/><circle cx="171.7" cy="167.8" r="2.55"/><circle cx="171.7" cy="415.2" r="2.55"/><circle cx="171.7" cy="247.9" r="2.55"/><circle cx="171.7" cy="317.2" r="2.55"/><circle cx="171.7" cy="312.3" r="2.55"/><circle cx="171.7" cy="592.5" r="2.55"/><circle cx="171.7" cy="434.6" r="2.55"/><circle cx="171.7" cy="475.6" r="2.55"/><circle cx="171.7" cy="215.8" r="2.55"/><circle cx="171.7" cy="277.7" r="2.55"/><circle cx="171.7" cy="547.3" r="2.55"/><circle cx="171.7" cy="191.1" r="2.55"/><circle cx="171.7" cy="582.9" r="2.55"/><circle cx="171.7" cy="335.6" r="2.55"/><circle cx="171.7" cy="318.0" r="2.55"/><circle cx="171.7" cy="376.6" r="2.55"/><circle cx="171.7" cy="343.1" r="2.55"/><circle cx="171.7" cy="355.9" r="2.55"/><circle cx="171.7" cy="334.0" r="2.55"/><circle cx="171.7" cy="464.7" r="2.55"/><circle cx="171.7" cy="264.5" r="2.55"/><circle cx="171.7" cy="212.8" r="2.55"/><circle cx="171.7" cy="338.9" r="2.55"/><circle cx="171.7" cy="176.0" r="2.55"/><circle cx="171.7" cy="345.0" r="2.55"/><circle cx="171.7" cy="367.1" r="2.55"/><circle cx="171.7" cy="503.5" r="2.55"/><circle cx="171.7" cy="185.8" r="2.55"/><circle cx="171.7" cy="321.2" r="2.55"/><circle cx="171.7" cy="501.8" r="2.55"/><circle cx="171.7" cy="293.6" r="2.55"/><circle cx="171.7" cy="527.9" r="2.55"/></g><g fill="#2b758e" stroke="#2b758e"><circle cx="205.9" cy="539.0" r="2.55"/><circle cx="205.9" cy="542.0" r="2.55"/><circle cx="171.7" cy="472.5" r="2.55"/><circle cx="171.7" cy="154.1" r="2.55"/><circle cx="171.7" cy="315.8" r="2.55"/><circle cx="171.7" cy="495.1" r="2.55"/><circle cx="171.7" cy="382.2" r="2.55"/><circle cx="171.7" cy="451.1" r="2.55"/><circle cx="171.7" cy="600.3" r="2.55"/><circle cx="171.7" cy="452.2" r="2.55"/><circle cx="171.7" cy="391.4" r="2.55"/><circle cx="171.7" cy="532.6" r="2.55"/><circle cx="171.7" cy="336.9" r="2.55"/><circle cx="171.7" cy="139.4" r="2.55"/><circle cx="171.7" cy="262.7" r="2.55"/><circle cx="171.7" cy="414.3" r="2.55"/><circle cx="171.7" cy="580.7" r="2.55"/><circle cx="171.7" cy="605.0" r="2.55"/><circle cx="171.7" cy="420.2" r="2.55"/><circle cx="171.7" cy="268.0" r="2.55"/><circle cx="171.7" cy="601.8" r="2.55"/><circle cx="171.7" cy="322.8" r="2.55"/><circle cx="171.7" cy="241.7" r="2.55"/><circle cx="171.7" cy="394.6" r="2.55"/><circle cx="171.7" cy="296.4" r="2.55"/><circle cx="171.7" cy="187.0" r="2.55"/><circle cx="171.7" cy="469.9" r="2.55"/><circle cx="171.7" cy="459.8" r="2.55"/><circle cx="171.7" cy="591.9" r="2.55"/><circle cx="171.7" cy="198.9" r="2.55"/><circle cx="171.7" cy="562.9" r="2.55"/><circle cx="171.7" cy="509.6" r="2.55"/><circle cx="171.7" cy="253.6" r="2.55"/><circle cx="171.7" cy="360.0" r="2.55"/><circle cx="171.7" cy="431.0" r="2.55"/><circle cx="171.7" cy="282.7" r="2.55"/><circle cx="171.7" cy="185.1" r="2.55"/><circle cx="171.7" cy="528.3" r="2.55"/><circle cx="171.7" cy="212.0" r="2.55"/><circle cx="171.7" cy="365.4" r="2.55"/><circle cx="171.7" cy="340.4" r="2.55"/><circle cx="171.7" cy="559.4" r="2.55"/><circle cx="171.7" cy="397.5" r="2.55"/><circle cx="171.7" cy="334.2" r="2.55"/><circle cx="171.7" cy="594.1" r="2.55"/><circle cx="171.7" cy="300.4" r="2.55"/><circle cx="171.7" cy="476.3" r="2.55"/></g><g fill="#297a8e" stroke="#297a8e"><circle cx="183.1" cy="505.0" r="2.55"/><circle cx="183.1" cy="560.8" r="2.55"/><circle cx="194.5" cy="540.0" r="2.55"/><circle cx="217.3" cy="511.2" r="2.55"/><circle cx="171.7" cy="112.8" r="2.55"/><circle cx="171.7" cy="122.5" r="2.55"/><circle cx="171.7" cy="244.6" r="2.55"/><circle cx="171.7" cy="490.8" r="2.55"/><circle cx="171.7" cy="488.0" r="2.55"/><circle cx="171.7" cy="524.1" r="2.55"/><circle cx="171.7" cy="362.6" r="2.55"/><circle cx="171.7" cy="239.0" r="2.55"/><circle cx="171.7" cy="431.8" r="2.55"/><circle cx="171.7" cy="562.8" r="2.55"/><circle cx="171.7" cy="280.3" r="2.55"/><circle cx="171.7" cy="144.0" r="2.55"/><circle cx="171.7" cy="221.5" r="2.55"/><circle cx="171.7" cy="573.4" r="2.55"/><circle cx="171.7" cy="137.3" r="2.55"/><circle cx="171.7" cy="159.8" r="2.55"/><circle cx="171.7" cy="180.8" r="2.55"/><circle cx="171.7" cy="554.1" r="2.55"/><circle cx="171.7" cy="314.9" r="2.55"/><circle cx="171.7" cy="459.9" r="2.55"/><circle cx="171.7" cy="466.6" r="2.55"/><circle cx="171.7" cy="338.7" r="2.55"/><circle cx="171.7" cy="479.1" r="2.55"/><circle cx="171.7" cy="351.5" r="2.55"/><circle cx="171.7" cy="389.4" r="2.55"/><circle cx="171.7" cy="278.9" r="2.55"/><circle cx="171.7" cy="605.0" r="2.55"/><circle cx="171.7" cy="135.4" r="2.55"/><circle cx="171.7" cy="413.7" r="2.55"/><circle cx="171.7" cy="259.5" r="2.55"/><circle cx="171.7" cy="264.0" r="2.55"/><circle cx="171.7" cy="548.0" r="2.55"/><circle cx="171.7" cy="304.8" r="2.55"/><circle cx="171.7" cy="182.7" r="2.55"/><circle cx="171.7" cy="431.1" r="2.55"/><circle cx="171.7" cy="387.8" r="2.55"/><circle cx="171.7" cy="161.6" r="2.55"/><circle cx="171.7" cy="298.7" r="2.55"/><circle cx="171.7" cy="422.1" r="2.55"/><circle cx="171.7" cy="266.1" r="2.55"/><circle cx="171.7" cy="598.5" r="2.55"/></g><g fill="#27808e" stroke="#27808e"><circle cx="194.5" cy="471.5" r="2.55"/><circle cx="240.2" cy="570.0" r="2.55"/><circle cx="274.4" cy="600.8" r="2.55"/><circle cx="342.9" cy="604.4" r="2.55"/><circle cx="171.7" cy="113.6" r="2.55"/><circle cx="171.7" cy="510.4" r="2.55"/><circle cx="171.7" cy="371.7" r="2.55"/><circle cx="171.7" cy="565.3" r="2.55"/><circle cx="171.7" cy="150.8" r="2.55"/><circle cx="171.7" cy="240.1" r="2.55"/><circle cx="171.7" cy="564.9" r="2.55"/><circle cx="171.7" cy="373.9" r="2.55"/><circle cx="171.7" cy="214.6" r="2.55"/><circle cx="171.7" cy="402.7" r="2.55"/><circle cx="171.7" cy="478.1" r="2.55"/><circle cx="171.7" cy="418.4" r="2.55"/><circle cx="171.7" cy="156.1" r="2.55"/><circle cx="171.7" cy="151.8" r="2.55"/><circle cx="171.7" cy="326.0" r="2.55"/><circle cx="171.7" cy="142.2" r="2.55"/><circle cx="171.7" cy="174.1" r="2.55"/><circle cx="171.7" cy="436.8" r="2.55"/><circle cx="171.7" cy="340.8" r="2.55"/><circle cx="171.7" cy="174.7" r="2.55"/><circle cx="171.7" cy="546.9" r="2.55"/><circle cx="171.7" cy="307.9" r="2.55"/><circle cx="171.7" cy="550.0" r="2.55"/><circle cx="171.7" cy="421.1" r="2.55"/><circle cx="171.7" cy="426.7" r="2.55"/><circle cx="171.7" cy="334.0" r="2.55"/><circle cx="171.7" cy="450.7" r="2.55"/><circle cx="171.7" cy="249.1" r="2.55"/><circle cx="171.7" cy="255.6" r="2.55"/><circle cx="171.7" cy="605.0" r="2.55"/><circle cx="171.7" cy="546.1" r="2.55"/><circle cx="171.7" cy="230.4" r="2.55"/><circle cx="171.7" cy="316.1" r="2.55"/><circle cx="171.7" cy="484.9" r="2.55"/><circle cx="171.7" cy="289.8" r="2.55"/><circle cx="171.7" cy="306.7" r="2.55"/></g><g fill="#25848e" stroke="#25848e"><circle cx="171.7" cy="562.3" r="2.55"/><circle cx="171.7" cy="231.6" r="2.55"/><circle cx="171.7" cy="248.0" r="2.55"/><circle cx="171.7" cy="551.7" r="2.55"/><circle cx="171.7" cy="264.0" r="2.55"/><circle cx="171.7" cy="290.0" r="2.55"/><circle cx="171.7" cy="549.5" r="2.55"/><circle cx="171.7" cy="285.6" r="2.55"/><circle cx="171.7" cy="603.6" r="2.55"/><circle cx="171.7" cy="520.9" r="2.55"/><circle cx="171.7" cy="532.9" r="2.55"/><circle cx="171.7" cy="240.7" r="2.55"/><circle cx="171.7" cy="236.6" r="2.55"/><circle cx="171.7" cy="488.6" r="2.55"/><circle cx="171.7" cy="523.5" r="2.55"/><circle cx="171.7" cy="240.1" r="2.55"/><circle cx="171.7" cy="231.4" r="2.55"/><circle cx="171.7" cy="249.1" r="2.55"/><circle cx="171.7" cy="199.2" r="2.55"/><circle cx="171.7" cy="332.7" r="2.55"/><circle cx="171.7" cy="371.1" r="2.55"/><circle cx="171.7" cy="430.1" r="2.55"/><circle cx="171.7" cy="160.5" r="2.55"/><circle cx="171.7" cy="224.9" r="2.55"/><circle cx="171.7" cy="189.6" r="2.55"/><circle cx="171.7" cy="261.5" r="2.55"/><circle cx="171.7" cy="221.9" r="2.55"/><circle cx="194.5" cy="405.4" r="2.55"/><circle cx="194.5" cy="532.0" r="2.55"/><circle cx="194.5" cy="578.0" r="2.55"/><circle cx="308.6" cy="557.0" r="2.55"/><circle cx="331.4" cy="562.2" r="2.55"/><circle cx="171.7" cy="575.0" r="2.55"/><circle cx="171.7" cy="310.2" r="2.55"/><circle cx="171.7" cy="199.9" r="2.55"/><circle cx="171.7" cy="448.1" r="2.55"/><circle cx="171.7" cy="592.3" r="2.55"/><circle cx="171.7" cy="508.3" r="2.55"/><circle cx="171.7" cy="439.5" r="2.55"/><circle cx="171.7" cy="312.4" r="2.55"/><circle cx="171.7" cy="324.3" r="2.55"/><circle cx="171.7" cy="276.7" r="2.55"/><circle cx="171.7" cy="513.8" r="2.55"/><circle cx="171.7" cy="512.5" r="2.55"/><circle cx="171.7" cy="364.8" r="2.55"/><circle cx="171.7" cy="540.0" r="2.55"/><circle cx="171.7" cy="441.4" r="2.55"/><circle cx="171.7" cy="457.1" r="2.55"/><circle cx="171.7" cy="261.0" r="2.55"/><circle cx="171.7" cy="248.2" r="2.55"/><circle cx="171.7" cy="241.7" r="2.55"/><circle cx="171.7" cy="563.8" r="2.55"/><circle cx="171.7" cy="511.0" r="2.55"/><circle cx="171.7" cy="557.6" r="2.55"/><circle cx="171.7" cy="521.6" r="2.55"/><circle cx="171.7" cy="513.2" r="2.55"/></g><g fill="#23898e" stroke="#23898e"><circle cx="308.6" cy="557.0" r="2.55"/><circle cx="331.4" cy="562.4" r="2.55"/><circle cx="171.7" cy="339.7" r="2.55"/><circle cx="171.7" cy="494.7" r="2.55"/><circle cx="171.7" cy="605.0" r="2.55"/><circle cx="171.7" cy="212.9" r="2.55"/><circle cx="171.7" cy="443.1" r="2.55"/><circle cx="171.7" cy="154.7" r="2.55"/><circle cx="171.7" cy="588.9" r="2.55"/><circle cx="171.7" cy="548.3" r="2.55"/><circle cx="171.7" cy="212.1" r="2.55"/><circle cx="171.7" cy="496.2" r="2.55"/><circle cx="171.7" cy="522.0" r="2.55"/><circle cx="171.7" cy="154.3" r="2.55"/><circle cx="171.7" cy="400.9" r="2.55"/><circle cx="171.7" cy="332.2" r="2.55"/><circle cx="171.7" cy="425.6" r="2.55"/><circle cx="171.7" cy="551.5" r="2.55"/><circle cx="171.7" cy="474.7" r="2.55"/><circle cx="171.7" cy="233.9" r="2.55"/><circle cx="171.7" cy="395.5" r="2.55"/><circle cx="171.7" cy="398.8" r="2.55"/><circle cx="171.7" cy="139.9" r="2.55"/><circle cx="171.7" cy="196.6" r="2.55"/><circle cx="171.7" cy="303.7" r="2.55"/><circle cx="171.7" cy="218.3" r="2.55"/><circle cx="171.7" cy="246.2" r="2.55"/><circle cx="171.7" cy="452.6" r="2.55"/><circle cx="171.7" cy="586.8" r="2.55"/><circle cx="171.7" cy="350.0" r="2.55"/><circle cx="171.7" cy="438.5" r="2.55"/><circle cx="171.7" cy="492.8" r="2.55"/><circle cx="171.7" cy="451.1" r="2.55"/><circle cx="171.7" cy="443.6" r="2.55"/><circle cx="171.7" cy="135.1" r="2.55"/><circle cx="171.7" cy="543.8" r="2.55"/><circle cx="171.7" cy="210.4" r="2.55"/><circle cx="171.7" cy="219.5" r="2.55"/><circle cx="205.9" cy="554.3" r="2.55"/><circle cx="217.3" cy="468.4" r="2.55"/><circle cx="263.0" cy="542.8" r="2.55"/><circle cx="171.7" cy="374.4" r="2.55"/><circle cx="171.7" cy="410.6" r="2.55"/><circle cx="171.7" cy="490.0" r="2.55"/><circle cx="171.7" cy="272.4" r="2.55"/><circle cx="171.7" cy="579.2" r="2.55"/><circle cx="171.7" cy="430.1" r="2.55"/><circle cx="171.7" cy="531.7" r="2.55"/><circle cx="171.7" cy="359.0" r="2.55"/><circle cx="171.7" cy="168.0" r="2.55"/><circle cx="171.7" cy="140.3" r="2.55"/><circle cx="171.7" cy="435.8" r="2.55"/><circle cx="171.7" cy="335.0" r="2.55"/><circle cx="171.7" cy="341.8" r="2.55"/><circle cx="171.7" cy="287.9" r="2.55"/><circle cx="171.7" cy="218.5" r="2.55"/><circle cx="171.7" cy="357.4" r="2.55"/><circle cx="171.7" cy="254.5" r="2.55"/><circle cx="171.7" cy="554.6" r="2.55"/><circle cx="171.7" cy="218.7" r="2.55"/><circle cx="171.7" cy="589.8" r="2.55"/></g><g fill="#218e8d" stroke="#218e8d"><circle cx="183.1" cy="516.0" r="2.55"/><circle cx="240.2" cy="519.8" r="2.55"/><circle cx="274.4" cy="550.2" r="2.55"/><circle cx="297.2" cy="518.8" r="2.55"/><circle cx="331.4" cy="583.5" r="2.55"/><circle cx="171.7" cy="539.3" r="2.55"/><circle cx="171.7" cy="315.1" r="2.55"/><circle cx="171.7" cy="498.2" r="2.55"/><circle cx="171.7" cy="407.8" r="2.55"/><circle cx="171.7" cy="353.8" r="2.55"/><circle cx="171.7" cy="516.6" r="2.55"/><circle cx="171.7" cy="605.0" r="2.55"/><circle cx="171.7" cy="525.4" r="2.55"/><circle cx="171.7" cy="229.4" r="2.55"/><circle cx="171.7" cy="560.8" r="2.55"/><circle cx="171.7" cy="149.7" r="2.55"/><circle cx="171.7" cy="137.2" r="2.55"/><circle cx="171.7" cy="362.1" r="2.55"/><circle cx="171.7" cy="276.4" r="2.55"/><circle cx="171.7" cy="333.4" r="2.55"/><circle cx="171.7" cy="359.9" r="2.55"/><circle cx="171.7" cy="354.9" r="2.55"/><circle cx="171.7" cy="561.7" r="2.55"/><circle cx="171.7" cy="566.5" r="2.55"/><circle cx="171.7" cy="297.5" r="2.55"/><circle cx="171.7" cy="269.9" r="2.55"/><circle cx="171.7" cy="442.3" r="2.55"/><circle cx="171.7" cy="228.0" r="2.55"/><circle cx="171.7" cy="323.0" r="2.55"/><circle cx="171.7" cy="472.3" r="2.55"/><circle cx="171.7" cy="137.3" r="2.55"/><circle cx="171.7" cy="497.7" r="2.55"/><circle cx="171.7" cy="479.8" r="2.55"/><circle cx="171.7" cy="316.8" r="2.55"/><circle cx="171.7" cy="251.2" r="2.55"/><circle cx="171.7" cy="388.7" r="2.55"/><circle cx="171.7" cy="273.7" r="2.55"/><circle cx="171.7" cy="520.8" r="2.55"/><circle cx="171.7" cy="412.4" r="2.55"/><circle cx="171.7" cy="278.9" r="2.55"/><circle cx="171.7" cy="514.5" r="2.55"/><circle cx="171.7" cy="420.4" r="2.55"/><circle cx="171.7" cy="196.7" r="2.55"/><circle cx="171.7" cy="329.4" r="2.55"/></g><g fill="#20928c" stroke="#20928c"><circle cx="183.1" cy="549.8" r="2.55"/><circle cx="183.1" cy="593.0" r="2.55"/><circle cx="194.5" cy="496.0" r="2.55"/><circle cx="194.5" cy="524.0" r="2.55"/><circle cx="194.5" cy="570.0" r="2.55"/><circle cx="205.9" cy="605.0" r="2.55"/><circle cx="217.3" cy="605.0" r="2.55"/><circle cx="240.2" cy="555.4" r="2.55"/><circle cx="240.2" cy="573.3" r="2.55"/><circle cx="240.2" cy="576.0" r="2.55"/><circle cx="251.6" cy="517.8" r="2.55"/><circle cx="251.6" cy="572.0" r="2.55"/><circle cx="263.0" cy="524.4" r="2.55"/><circle cx="263.0" cy="591.7" r="2.55"/><circle cx="285.8" cy="594.0" r="2.55"/><circle cx="285.8" cy="601.0" r="2.55"/><circle cx="308.6" cy="601.7" r="2.55"/><circle cx="320.0" cy="532.2" r="2.55"/><circle cx="331.4" cy="602.5" r="2.55"/><circle cx="365.7" cy="582.5" r="2.55"/><circle cx="422.7" cy="602.5" r="2.55"/><circle cx="548.2" cy="598.5" r="2.55"/><circle cx="171.7" cy="117.9" r="2.55"/><circle cx="171.7" cy="120.4" r="2.55"/><circle cx="171.7" cy="365.0" r="2.55"/><circle cx="171.7" cy="579.0" r="2.55"/><circle cx="171.7" cy="285.5" r="2.55"/><circle cx="171.7" cy="345.6" r="2.55"/><circle cx="171.7" cy="594.1" r="2.55"/><circle cx="171.7" cy="335.1" r="2.55"/><circle cx="171.7" cy="523.7" r="2.55"/><circle cx="171.7" cy="180.3" r="2.55"/><circle cx="171.7" cy="319.9" r="2.55"/><circle cx="171.7" cy="221.1" r="2.55"/><circle cx="171.7" cy="550.4" r="2.55"/><circle cx="171.7" cy="394.6" r="2.55"/><circle cx="171.7" cy="237.5" r="2.55"/><circle cx="171.7" cy="178.0" r="2.55"/><circle cx="171.7" cy="332.6" r="2.55"/><circle cx="171.7" cy="180.0" r="2.55"/><circle cx="171.7" cy="362.9" r="2.55"/><circle cx="171.7" cy="477.4" r="2.55"/><circle cx="171.7" cy="280.7" r="2.55"/><circle cx="171.7" cy="213.5" r="2.55"/><circle cx="171.7" cy="304.7" r="2.55"/><circle cx="171.7" cy="212.8" r="2.55"/><circle cx="171.7" cy="531.6" r="2.55"/><circle cx="171.7" cy="179.9" r="2.55"/><circle cx="171.7" cy="483.2" r="2.55"/><circle cx="171.7" cy="291.7" r="2.55"/><circle cx="171.7" cy="477.3" r="2.55"/><circle cx="171.7" cy="497.3" r="2.55"/><circle cx="171.7" cy="198.2" r="2.55"/><circle cx="171.7" cy="490.5" r="2.55"/><circle cx="171.7" cy="579.4" r="2.55"/><circle cx="171.7" cy="401.4" r="2.55"/><circle cx="171.7" cy="438.0" r="2.55"/><circle cx="171.7" cy="605.0" r="2.55"/><circle cx="171.7" cy="286.4" r="2.55"/><circle cx="171.7" cy="216.8" r="2.55"/><circle cx="171.7" cy="484.8" r="2.55"/><circle cx="171.7" cy="520.6" r="2.55"/><circle cx="171.7" cy="231.7" r="2.55"/><circle cx="171.7" cy="188.1" r="2.55"/><circle cx="171.7" cy="300.4" r="2.55"/><circle cx="171.7" cy="429.2" r="2.55"/><circle cx="171.7" cy="306.4" r="2.55"/><circle cx="171.7" cy="588.1" r="2.55"/><circle cx="171.7" cy="506.9" r="2.55"/><circle cx="171.7" cy="565.6" r="2.55"/><circle cx="171.7" cy="416.7" r="2.55"/><circle cx="171.7" cy="490.1" r="2.55"/><circle cx="171.7" cy="582.0" r="2.55"/><circle cx="171.7" cy="151.5" r="2.55"/><circle cx="171.7" cy="405.1" r="2.55"/><circle cx="171.7" cy="222.7" r="2.55"/><circle cx="171.7" cy="508.6" r="2.55"/><circle cx="171.7" cy="244.1" r="2.55"/><circle cx="171.7" cy="483.5" r="2.55"/><circle cx="171.7" cy="291.2" r="2.55"/></g><g fill="#1f978b" stroke="#1f978b"><circle cx="194.5" cy="500.6" r="2.55"/><circle cx="240.2" cy="558.0" r="2.55"/><circle cx="285.8" cy="534.8" r="2.55"/><circle cx="285.8" cy="598.0" r="2.55"/><circle cx="468.4" cy="597.0" r="2.55"/><circle cx="514.0" cy="568.0" r="2.55"/><circle cx="536.8" cy="510.0" r="2.55"/><circle cx="171.7" cy="81.7" r="2.55"/><circle cx="171.7" cy="441.1" r="2.55"/><circle cx="171.7" cy="454.0" r="2.55"/><circle cx="171.7" cy="562.1" r="2.55"/><circle cx="171.7" cy="545.0" r="2.55"/><circle cx="171.7" cy="340.6" r="2.55"/><circle cx="171.7" cy="458.8" r="2.55"/><circle cx="171.7" cy="220.5" r="2.55"/><circle cx="171.7" cy="180.9" r="2.55"/><circle cx="171.7" cy="470.5" r="2.55"/><circle cx="171.7" cy="561.2" r="2.55"/><circle cx="171.7" cy="485.9" r="2.55"/><circle cx="171.7" cy="377.8" r="2.55"/><circle cx="171.7" cy="430.8" r="2.55"/><circle cx="171.7" cy="478.1" r="2.55"/><circle cx="171.7" cy="402.5" r="2.55"/><circle cx="171.7" cy="305.5" r="2.55"/><circle cx="171.7" cy="534.8" r="2.55"/><circle cx="171.7" cy="308.4" r="2.55"/><circle cx="171.7" cy="559.7" r="2.55"/><circle cx="171.7" cy="510.7" r="2.55"/><circle cx="171.7" cy="507.7" r="2.55"/><circle cx="171.7" cy="526.8" r="2.55"/><circle cx="171.7" cy="598.8" r="2.55"/><circle cx="171.7" cy="600.2" r="2.55"/><circle cx="171.7" cy="370.5" r="2.55"/><circle cx="171.7" cy="312.2" r="2.55"/><circle cx="171.7" cy="479.5" r="2.55"/><circle cx="171.7" cy="589.9" r="2.55"/><circle cx="171.7" cy="431.1" r="2.55"/><circle cx="171.7" cy="146.9" r="2.55"/><circle cx="171.7" cy="152.9" r="2.55"/><circle cx="171.7" cy="353.0" r="2.55"/><circle cx="171.7" cy="505.2" r="2.55"/><circle cx="171.7" cy="552.1" r="2.55"/><circle cx="171.7" cy="311.1" r="2.55"/><circle cx="171.7" cy="378.0" r="2.55"/><circle cx="171.7" cy="605.0" r="2.55"/><circle cx="171.7" cy="376.0" r="2.55"/><circle cx="171.7" cy="179.3" r="2.55"/><circle cx="171.7" cy="135.2" r="2.55"/></g><g fill="#1e9c89" stroke="#1e9c89"><circle cx="171.7" cy="381.0" r="2.55"/><circle cx="171.7" cy="371.9" r="2.55"/><circle cx="171.7" cy="540.9" r="2.55"/><circle cx="171.7" cy="220.2" r="2.55"/><circle cx="171.7" cy="535.7" r="2.55"/><circle cx="171.7" cy="262.4" r="2.55"/><circle cx="171.7" cy="388.4" r="2.55"/><circle cx="171.7" cy="467.2" r="2.55"/><circle cx="171.7" cy="203.1" r="2.55"/><circle cx="171.7" cy="579.8" r="2.55"/><circle cx="171.7" cy="585.2" r="2.55"/><circle cx="171.7" cy="590.9" r="2.55"/><circle cx="171.7" cy="135.9" r="2.55"/><circle cx="171.7" cy="437.4" r="2.55"/><circle cx="171.7" cy="450.3" r="2.55"/><circle cx="171.7" cy="548.5" r="2.55"/><circle cx="171.7" cy="229.6" r="2.55"/><circle cx="171.7" cy="193.1" r="2.55"/><circle cx="171.7" cy="515.4" r="2.55"/><circle cx="217.3" cy="517.5" r="2.55"/><circle cx="217.3" cy="555.0" r="2.55"/><circle cx="240.2" cy="564.6" r="2.55"/><circle cx="263.0" cy="245.3" r="2.55"/><circle cx="263.0" cy="527.5" r="2.55"/><circle cx="685.2" cy="599.8" r="2.55"/><circle cx="171.7" cy="257.9" r="2.55"/><circle cx="171.7" cy="165.9" r="2.55"/><circle cx="171.7" cy="178.1" r="2.55"/><circle cx="171.7" cy="438.2" r="2.55"/><circle cx="171.7" cy="386.8" r="2.55"/><circle cx="171.7" cy="486.5" r="2.55"/><circle cx="171.7" cy="514.3" r="2.55"/><circle cx="171.7" cy="136.1" r="2.55"/><circle cx="171.7" cy="573.5" r="2.55"/><circle cx="171.7" cy="548.4" r="2.55"/><circle cx="171.7" cy="573.5" r="2.55"/><circle cx="171.7" cy="496.2" r="2.55"/><circle cx="171.7" cy="315.3" r="2.55"/><circle cx="171.7" cy="251.5" r="2.55"/><circle cx="171.7" cy="563.8" r="2.55"/><circle cx="171.7" cy="332.4" r="2.55"/><circle cx="171.7" cy="364.2" r="2.55"/><circle cx="171.7" cy="463.2" r="2.55"/><circle cx="171.7" cy="458.5" r="2.55"/><circle cx="171.7" cy="460.9" r="2.55"/><circle cx="171.7" cy="428.0" r="2.55"/><circle cx="171.7" cy="374.0" r="2.55"/></g><g fill="#1fa188" stroke="#1fa188"><circle cx="171.7" cy="131.4" r="2.55"/><circle cx="171.7" cy="495.5" r="2.55"/><circle cx="171.7" cy="320.9" r="2.55"/><circle cx="171.7" cy="258.2" r="2.55"/><circle cx="171.7" cy="562.3" r="2.55"/><circle cx="171.7" cy="532.6" r="2.55"/><circle cx="171.7" cy="472.4" r="2.55"/><circle cx="171.7" cy="214.0" r="2.55"/><circle cx="171.7" cy="605.0" r="2.55"/><circle cx="171.7" cy="156.3" r="2.55"/><circle cx="171.7" cy="568.5" r="2.55"/><circle cx="171.7" cy="578.2" r="2.55"/><circle cx="171.7" cy="263.0" r="2.55"/><circle cx="171.7" cy="430.8" r="2.55"/><circle cx="171.7" cy="143.5" r="2.55"/><circle cx="171.7" cy="320.0" r="2.55"/><circle cx="171.7" cy="465.8" r="2.55"/><circle cx="171.7" cy="304.6" r="2.55"/><circle cx="171.7" cy="514.3" r="2.55"/><circle cx="171.7" cy="564.0" r="2.55"/><circle cx="171.7" cy="199.4" r="2.55"/><circle cx="171.7" cy="458.4" r="2.55"/><circle cx="171.7" cy="311.7" r="2.55"/><circle cx="171.7" cy="216.9" r="2.55"/><circle cx="171.7" cy="299.1" r="2.55"/><circle cx="171.7" cy="361.4" r="2.55"/><circle cx="171.7" cy="556.1" r="2.55"/><circle cx="171.7" cy="494.7" r="2.55"/><circle cx="171.7" cy="137.4" r="2.55"/><circle cx="171.7" cy="161.5" r="2.55"/><circle cx="171.7" cy="602.1" r="2.55"/><circle cx="171.7" cy="396.6" r="2.55"/><circle cx="171.7" cy="421.8" r="2.55"/><circle cx="171.7" cy="300.7" r="2.55"/><circle cx="171.7" cy="525.8" r="2.55"/><circle cx="171.7" cy="396.8" r="2.55"/><circle cx="171.7" cy="413.5" r="2.55"/><circle cx="171.7" cy="252.2" r="2.55"/><circle cx="171.7" cy="500.0" r="2.55"/><circle cx="171.7" cy="235.6" r="2.55"/><circle cx="171.7" cy="199.5" r="2.55"/><circle cx="171.7" cy="415.7" r="2.55"/><circle cx="194.5" cy="466.0" r="2.55"/></g><g fill="#21a685" stroke="#21a685"><circle cx="171.7" cy="526.2" r="2.55"/><circle cx="171.7" cy="272.7" r="2.55"/><circle cx="171.7" cy="276.9" r="2.55"/><circle cx="171.7" cy="205.2" r="2.55"/><circle cx="171.7" cy="418.5" r="2.55"/><circle cx="171.7" cy="497.3" r="2.55"/><circle cx="171.7" cy="194.0" r="2.55"/><circle cx="171.7" cy="386.5" r="2.55"/><circle cx="171.7" cy="388.6" r="2.55"/><circle cx="171.7" cy="185.1" r="2.55"/><circle cx="171.7" cy="384.2" r="2.55"/><circle cx="171.7" cy="262.8" r="2.55"/><circle cx="171.7" cy="228.6" r="2.55"/><circle cx="171.7" cy="598.2" r="2.55"/><circle cx="171.7" cy="177.4" r="2.55"/><circle cx="171.7" cy="605.0" r="2.55"/><circle cx="171.7" cy="296.4" r="2.55"/><circle cx="171.7" cy="425.7" r="2.55"/><circle cx="171.7" cy="325.2" r="2.55"/><circle cx="171.7" cy="143.4" r="2.55"/><circle cx="171.7" cy="542.1" r="2.55"/><circle cx="171.7" cy="247.4" r="2.55"/><circle cx="171.7" cy="328.7" r="2.55"/><circle cx="171.7" cy="562.0" r="2.55"/><circle cx="171.7" cy="590.7" r="2.55"/><circle cx="171.7" cy="564.9" r="2.55"/><circle cx="171.7" cy="328.2" r="2.55"/><circle cx="171.7" cy="484.7" r="2.55"/><circle cx="171.7" cy="533.8" r="2.55"/><circle cx="171.7" cy="227.7" r="2.55"/><circle cx="171.7" cy="590.6" r="2.55"/><circle cx="171.7" cy="182.7" r="2.55"/><circle cx="171.7" cy="444.1" r="2.55"/><circle cx="171.7" cy="247.3" r="2.55"/><circle cx="171.7" cy="236.0" r="2.55"/><circle cx="171.7" cy="199.5" r="2.55"/><circle cx="171.7" cy="577.8" r="2.55"/></g><g fill="#25ab82" stroke="#25ab82"><circle cx="183.1" cy="566.7" r="2.55"/><circle cx="183.1" cy="605.0" r="2.55"/><circle cx="188.8" cy="595.0" r="2.55"/><circle cx="194.5" cy="466.3" r="2.55"/><circle cx="194.5" cy="509.0" r="2.55"/><circle cx="194.5" cy="555.0" r="2.55"/><circle cx="194.5" cy="600.0" r="2.55"/><circle cx="211.6" cy="600.8" r="2.55"/><circle cx="217.3" cy="581.7" r="2.55"/><circle cx="240.2" cy="592.5" r="2.55"/><circle cx="171.7" cy="195.4" r="2.55"/><circle cx="171.7" cy="563.9" r="2.55"/><circle cx="171.7" cy="213.3" r="2.55"/><circle cx="171.7" cy="290.1" r="2.55"/><circle cx="171.7" cy="234.8" r="2.55"/><circle cx="171.7" cy="599.3" r="2.55"/><circle cx="171.7" cy="179.4" r="2.55"/><circle cx="171.7" cy="539.9" r="2.55"/><circle cx="171.7" cy="276.9" r="2.55"/><circle cx="171.7" cy="582.6" r="2.55"/><circle cx="171.7" cy="487.9" r="2.55"/><circle cx="171.7" cy="259.9" r="2.55"/><circle cx="171.7" cy="375.4" r="2.55"/><circle cx="171.7" cy="212.1" r="2.55"/><circle cx="171.7" cy="327.4" r="2.55"/><circle cx="171.7" cy="149.0" r="2.55"/><circle cx="171.7" cy="456.0" r="2.55"/><circle cx="171.7" cy="414.7" r="2.55"/><circle cx="171.7" cy="264.2" r="2.55"/><circle cx="171.7" cy="143.5" r="2.55"/><circle cx="171.7" cy="576.5" r="2.55"/><circle cx="171.7" cy="195.9" r="2.55"/><circle cx="171.7" cy="290.7" r="2.55"/><circle cx="171.7" cy="149.5" r="2.55"/><circle cx="171.7" cy="316.9" r="2.55"/><circle cx="171.7" cy="325.6" r="2.55"/><circle cx="171.7" cy="605.0" r="2.55"/><circle cx="171.7" cy="387.4" r="2.55"/><circle cx="171.7" cy="289.6" r="2.55"/><circle cx="171.7" cy="255.1" r="2.55"/><circle cx="171.7" cy="505.1" r="2.55"/><circle cx="171.7" cy="269.0" r="2.55"/><circle cx="171.7" cy="293.8" r="2.55"/><circle cx="171.7" cy="367.9" r="2.55"/><circle cx="171.7" cy="266.8" r="2.55"/><circle cx="171.7" cy="477.6" r="2.55"/></g><g fill="#29af7f" stroke="#29af7f"><circle cx="188.8" cy="603.8" r="2.55"/><circle cx="194.5" cy="413.1" r="2.55"/><circle cx="217.3" cy="513.8" r="2.55"/><circle cx="234.5" cy="602.5" r="2.55"/><circle cx="251.6" cy="598.3" r="2.55"/><circle cx="171.7" cy="178.4" r="2.55"/><circle cx="171.7" cy="289.8" r="2.55"/><circle cx="171.7" cy="335.4" r="2.55"/><circle cx="171.7" cy="259.7" r="2.55"/><circle cx="171.7" cy="530.5" r="2.55"/><circle cx="171.7" cy="304.6" r="2.55"/><circle cx="171.7" cy="335.5" r="2.55"/><circle cx="171.7" cy="358.0" r="2.55"/><circle cx="171.7" cy="526.0" r="2.55"/><circle cx="171.7" cy="241.7" r="2.55"/><circle cx="171.7" cy="525.4" r="2.55"/><circle cx="171.7" cy="581.0" r="2.55"/><circle cx="171.7" cy="264.0" r="2.55"/><circle cx="171.7" cy="219.2" r="2.55"/><circle cx="171.7" cy="506.9" r="2.55"/><circle cx="171.7" cy="285.9" r="2.55"/><circle cx="171.7" cy="246.5" r="2.55"/><circle cx="171.7" cy="177.2" r="2.55"/><circle cx="171.7" cy="425.8" r="2.55"/><circle cx="171.7" cy="575.7" r="2.55"/><circle cx="171.7" cy="549.9" r="2.55"/><circle cx="171.7" cy="414.3" r="2.55"/><circle cx="171.7" cy="344.6" r="2.55"/><circle cx="171.7" cy="594.0" r="2.55"/><circle cx="171.7" cy="447.5" r="2.55"/><circle cx="171.7" cy="584.7" r="2.55"/><circle cx="171.7" cy="460.5" r="2.55"/><circle cx="171.7" cy="464.5" r="2.55"/><circle cx="171.7" cy="466.5" r="2.55"/><circle cx="171.7" cy="200.0" r="2.55"/><circle cx="171.7" cy="258.8" r="2.55"/><circle cx="171.7" cy="172.5" r="2.55"/><circle cx="171.7" cy="573.8" r="2.55"/><circle cx="171.7" cy="602.5" r="2.55"/><circle cx="171.7" cy="422.3" r="2.55"/><circle cx="171.7" cy="214.6" r="2.55"/><circle cx="171.7" cy="200.0" r="2.55"/><circle cx="171.7" cy="348.8" r="2.55"/><circle cx="171.7" cy="323.3" r="2.55"/><circle cx="171.7" cy="233.1" r="2.55"/><circle cx="171.7" cy="183.9" r="2.55"/><circle cx="171.7" cy="442.0" r="2.55"/><circle cx="171.7" cy="509.0" r="2.55"/><circle cx="171.7" cy="172.0" r="2.55"/><circle cx="171.7" cy="286.0" r="2.55"/><circle cx="171.7" cy="281.8" r="2.55"/><circle cx="171.7" cy="393.5" r="2.55"/><circle cx="171.7" cy="422.4" r="2.55"/><circle cx="171.7" cy="332.9" r="2.55"/><circle cx="171.7" cy="543.1" r="2.55"/><circle cx="171.7" cy="323.8" r="2.55"/><circle cx="171.7" cy="283.5" r="2.55"/></g><g fill="#2fb47c" stroke="#2fb47c"><circle cx="171.7" cy="497.4" r="2.55"/><circle cx="171.7" cy="532.1" r="2.55"/><circle cx="171.7" cy="605.0" r="2.55"/><circle cx="171.7" cy="548.4" r="2.55"/><circle cx="171.7" cy="221.8" r="2.55"/><circle cx="171.7" cy="234.6" r="2.55"/><circle cx="171.7" cy="357.2" r="2.55"/><circle cx="171.7" cy="590.0" r="2.55"/><circle cx="171.7" cy="430.1" r="2.55"/><circle cx="171.7" cy="431.5" r="2.55"/><circle cx="171.7" cy="294.9" r="2.55"/><circle cx="171.7" cy="600.6" r="2.55"/><circle cx="171.7" cy="228.8" r="2.55"/><circle cx="171.7" cy="402.2" r="2.55"/><circle cx="171.7" cy="455.5" r="2.55"/><circle cx="171.7" cy="517.6" r="2.55"/><circle cx="171.7" cy="519.2" r="2.55"/><circle cx="171.7" cy="323.1" r="2.55"/><circle cx="194.5" cy="454.0" r="2.55"/><circle cx="308.6" cy="605.0" r="2.55"/><circle cx="331.4" cy="605.0" r="2.55"/><circle cx="171.7" cy="270.2" r="2.55"/><circle cx="171.7" cy="595.7" r="2.55"/><circle cx="171.7" cy="399.7" r="2.55"/><circle cx="171.7" cy="275.4" r="2.55"/><circle cx="171.7" cy="209.5" r="2.55"/><circle cx="171.7" cy="514.7" r="2.55"/><circle cx="171.7" cy="535.5" r="2.55"/><circle cx="171.7" cy="407.7" r="2.55"/><circle cx="171.7" cy="322.7" r="2.55"/><circle cx="171.7" cy="449.1" r="2.55"/><circle cx="171.7" cy="595.9" r="2.55"/><circle cx="171.7" cy="411.9" r="2.55"/><circle cx="171.7" cy="507.5" r="2.55"/><circle cx="171.7" cy="551.0" r="2.55"/><circle cx="171.7" cy="493.7" r="2.55"/><circle cx="171.7" cy="369.9" r="2.55"/><circle cx="171.7" cy="228.8" r="2.55"/><circle cx="171.7" cy="466.1" r="2.55"/><circle cx="171.7" cy="527.9" r="2.55"/><circle cx="171.7" cy="588.0" r="2.55"/><circle cx="171.7" cy="217.2" r="2.55"/><circle cx="171.7" cy="199.6" r="2.55"/><circle cx="171.7" cy="438.6" r="2.55"/></g><g fill="#37b878" stroke="#37b878"><circle cx="171.7" cy="526.0" r="2.55"/><circle cx="171.7" cy="182.9" r="2.55"/><circle cx="171.7" cy="428.6" r="2.55"/><circle cx="171.7" cy="269.8" r="2.55"/><circle cx="171.7" cy="604.6" r="2.55"/><circle cx="171.7" cy="313.2" r="2.55"/><circle cx="171.7" cy="185.6" r="2.55"/><circle cx="171.7" cy="505.7" r="2.55"/><circle cx="171.7" cy="285.6" r="2.55"/><circle cx="171.7" cy="339.7" r="2.55"/><circle cx="171.7" cy="207.9" r="2.55"/><circle cx="171.7" cy="299.5" r="2.55"/><circle cx="171.7" cy="209.5" r="2.55"/><circle cx="171.7" cy="266.2" r="2.55"/><circle cx="171.7" cy="412.8" r="2.55"/><circle cx="171.7" cy="285.3" r="2.55"/><circle cx="171.7" cy="453.4" r="2.55"/><circle cx="171.7" cy="559.9" r="2.55"/><circle cx="171.7" cy="605.0" r="2.55"/><circle cx="171.7" cy="412.0" r="2.55"/><circle cx="171.7" cy="162.6" r="2.55"/><circle cx="171.7" cy="586.7" r="2.55"/><circle cx="171.7" cy="239.8" r="2.55"/><circle cx="171.7" cy="307.4" r="2.55"/><circle cx="171.7" cy="389.5" r="2.55"/><circle cx="171.7" cy="431.7" r="2.55"/><circle cx="171.7" cy="305.8" r="2.55"/><circle cx="171.7" cy="350.6" r="2.55"/><circle cx="171.7" cy="435.4" r="2.55"/><circle cx="171.7" cy="358.2" r="2.55"/><circle cx="171.7" cy="279.3" r="2.55"/><circle cx="171.7" cy="337.2" r="2.55"/><circle cx="171.7" cy="325.5" r="2.55"/><circle cx="171.7" cy="283.4" r="2.55"/><circle cx="171.7" cy="423.7" r="2.55"/><circle cx="171.7" cy="383.6" r="2.55"/><circle cx="171.7" cy="337.9" r="2.55"/><circle cx="171.7" cy="473.1" r="2.55"/><circle cx="171.7" cy="519.9" r="2.55"/><circle cx="171.7" cy="445.7" r="2.55"/><circle cx="171.7" cy="306.1" r="2.55"/><circle cx="171.7" cy="576.3" r="2.55"/><circle cx="171.7" cy="198.7" r="2.55"/><circle cx="171.7" cy="516.8" r="2.55"/><circle cx="171.7" cy="342.6" r="2.55"/><circle cx="171.7" cy="331.5" r="2.55"/><circle cx="171.7" cy="533.9" r="2.55"/><circle cx="171.7" cy="448.7" r="2.55"/><circle cx="171.7" cy="593.2" r="2.55"/></g><g fill="#3fbc73" stroke="#3fbc73"><circle cx="183.1" cy="596.0" r="2.55"/><circle cx="194.5" cy="493.0" r="2.55"/><circle cx="399.9" cy="605.2" r="2.55"/><circle cx="616.7" cy="605.2" r="2.55"/><circle cx="171.7" cy="549.8" r="2.55"/><circle cx="171.7" cy="204.9" r="2.55"/><circle cx="171.7" cy="380.3" r="2.55"/><circle cx="171.7" cy="499.9" r="2.55"/><circle cx="171.7" cy="190.2" r="2.55"/><circle cx="171.7" cy="398.5" r="2.55"/><circle cx="171.7" cy="601.7" r="2.55"/><circle cx="171.7" cy="261.9" r="2.55"/><circle cx="171.7" cy="207.7" r="2.55"/><circle cx="171.7" cy="285.6" r="2.55"/><circle cx="171.7" cy="310.3" r="2.55"/><circle cx="171.7" cy="284.2" r="2.55"/><circle cx="171.7" cy="350.1" r="2.55"/><circle cx="171.7" cy="530.2" r="2.55"/><circle cx="171.7" cy="388.5" r="2.55"/><circle cx="171.7" cy="420.7" r="2.55"/><circle cx="171.7" cy="206.1" r="2.55"/><circle cx="171.7" cy="187.5" r="2.55"/><circle cx="171.7" cy="583.1" r="2.55"/><circle cx="171.7" cy="313.7" r="2.55"/><circle cx="171.7" cy="605.0" r="2.55"/><circle cx="171.7" cy="581.5" r="2.55"/><circle cx="171.7" cy="309.0" r="2.55"/><circle cx="171.7" cy="444.5" r="2.55"/><circle cx="171.7" cy="454.3" r="2.55"/><circle cx="171.7" cy="199.9" r="2.55"/><circle cx="171.7" cy="191.5" r="2.55"/><circle cx="171.7" cy="356.7" r="2.55"/><circle cx="171.7" cy="217.2" r="2.55"/><circle cx="171.7" cy="292.3" r="2.55"/><circle cx="171.7" cy="248.0" r="2.55"/><circle cx="171.7" cy="300.0" r="2.55"/><circle cx="171.7" cy="363.7" r="2.55"/><circle cx="171.7" cy="299.7" r="2.55"/><circle cx="171.7" cy="310.4" r="2.55"/><circle cx="171.7" cy="377.2" r="2.55"/><circle cx="171.7" cy="464.6" r="2.55"/><circle cx="171.7" cy="181.1" r="2.55"/><circle cx="171.7" cy="603.9" r="2.55"/><circle cx="171.7" cy="353.2" r="2.55"/><circle cx="171.7" cy="571.0" r="2.55"/></g><g fill="#48c16e" stroke="#48c16e"><circle cx="183.1" cy="557.5" r="2.55"/><circle cx="194.5" cy="493.2" r="2.55"/><circle cx="194.5" cy="585.0" r="2.55"/><circle cx="194.5" cy="562.0" r="2.55"/><circle cx="205.9" cy="583.3" r="2.55"/><circle cx="228.8" cy="588.3" r="2.55"/><circle cx="240.2" cy="595.0" r="2.55"/><circle cx="263.0" cy="600.8" r="2.55"/><circle cx="377.1" cy="553.4" r="2.55"/><circle cx="171.7" cy="167.9" r="2.55"/><circle cx="171.7" cy="190.0" r="2.55"/><circle cx="171.7" cy="208.4" r="2.55"/><circle cx="171.7" cy="566.6" r="2.55"/><circle cx="171.7" cy="346.3" r="2.55"/><circle cx="171.7" cy="537.4" r="2.55"/><circle cx="171.7" cy="470.7" r="2.55"/><circle cx="171.7" cy="204.0" r="2.55"/><circle cx="171.7" cy="324.6" r="2.55"/><circle cx="171.7" cy="312.1" r="2.55"/><circle cx="171.7" cy="365.5" r="2.55"/><circle cx="171.7" cy="497.2" r="2.55"/><circle cx="171.7" cy="203.9" r="2.55"/><circle cx="171.7" cy="572.8" r="2.55"/><circle cx="171.7" cy="376.0" r="2.55"/><circle cx="171.7" cy="327.7" r="2.55"/><circle cx="171.7" cy="472.9" r="2.55"/><circle cx="171.7" cy="288.9" r="2.55"/><circle cx="171.7" cy="479.6" r="2.55"/><circle cx="171.7" cy="350.6" r="2.55"/><circle cx="171.7" cy="377.8" r="2.55"/><circle cx="171.7" cy="252.3" r="2.55"/><circle cx="171.7" cy="258.7" r="2.55"/><circle cx="171.7" cy="544.8" r="2.55"/><circle cx="171.7" cy="420.9" r="2.55"/><circle cx="171.7" cy="354.1" r="2.55"/><circle cx="171.7" cy="507.3" r="2.55"/><circle cx="171.7" cy="566.8" r="2.55"/><circle cx="171.7" cy="239.9" r="2.55"/><circle cx="171.7" cy="604.1" r="2.55"/><circle cx="171.7" cy="178.0" r="2.55"/><circle cx="171.7" cy="437.8" r="2.55"/><circle cx="171.7" cy="286.3" r="2.55"/><circle cx="171.7" cy="281.5" r="2.55"/><circle cx="171.7" cy="386.6" r="2.55"/><circle cx="171.7" cy="434.0" r="2.55"/><circle cx="171.7" cy="361.8" r="2.55"/><circle cx="171.7" cy="605.0" r="2.55"/><circle cx="171.7" cy="481.7" r="2.55"/><circle cx="171.7" cy="583.6" r="2.55"/><circle cx="171.7" cy="246.7" r="2.55"/><circle cx="171.7" cy="276.4" r="2.55"/><circle cx="171.7" cy="436.9" r="2.55"/><circle cx="171.7" cy="351.1" r="2.55"/><circle cx="171.7" cy="310.4" r="2.55"/><circle cx="171.7" cy="391.8" r="2.55"/></g><g fill="#52c569" stroke="#52c569"><circle cx="205.9" cy="574.0" r="2.55"/><circle cx="228.8" cy="541.9" r="2.55"/><circle cx="354.3" cy="605.2" r="2.55"/><circle cx="171.7" cy="474.6" r="2.55"/><circle cx="171.7" cy="565.7" r="2.55"/><circle cx="171.7" cy="579.6" r="2.55"/><circle cx="171.7" cy="527.5" r="2.55"/><circle cx="171.7" cy="324.3" r="2.55"/><circle cx="171.7" cy="555.1" r="2.55"/><circle cx="171.7" cy="480.5" r="2.55"/><circle cx="171.7" cy="250.7" r="2.55"/><circle cx="171.7" cy="585.0" r="2.55"/><circle cx="171.7" cy="282.9" r="2.55"/><circle cx="171.7" cy="469.1" r="2.55"/><circle cx="171.7" cy="474.4" r="2.55"/><circle cx="171.7" cy="565.7" r="2.55"/><circle cx="171.7" cy="462.6" r="2.55"/><circle cx="171.7" cy="597.8" r="2.55"/><circle cx="171.7" cy="204.3" r="2.55"/><circle cx="171.7" cy="194.9" r="2.55"/><circle cx="171.7" cy="262.4" r="2.55"/><circle cx="171.7" cy="424.2" r="2.55"/><circle cx="171.7" cy="360.0" r="2.55"/><circle cx="171.7" cy="215.2" r="2.55"/><circle cx="171.7" cy="266.0" r="2.55"/><circle cx="171.7" cy="426.3" r="2.55"/><circle cx="171.7" cy="351.5" r="2.55"/><circle cx="171.7" cy="504.7" r="2.55"/><circle cx="171.7" cy="379.0" r="2.55"/><circle cx="171.7" cy="553.2" r="2.55"/><circle cx="171.7" cy="502.9" r="2.55"/><circle cx="171.7" cy="391.2" r="2.55"/><circle cx="171.7" cy="333.5" r="2.55"/><circle cx="171.7" cy="272.6" r="2.55"/><circle cx="171.7" cy="305.8" r="2.55"/><circle cx="171.7" cy="332.6" r="2.55"/><circle cx="171.7" cy="335.4" r="2.55"/><circle cx="171.7" cy="258.7" r="2.55"/><circle cx="171.7" cy="382.8" r="2.55"/><circle cx="171.7" cy="230.7" r="2.55"/><circle cx="171.7" cy="549.6" r="2.55"/><circle cx="171.7" cy="415.7" r="2.55"/><circle cx="171.7" cy="224.0" r="2.55"/><circle cx="171.7" cy="322.0" r="2.55"/><circle cx="171.7" cy="291.4" r="2.55"/><circle cx="171.7" cy="250.1" r="2.55"/><circle cx="171.7" cy="386.6" r="2.55"/><circle cx="171.7" cy="262.2" r="2.55"/></g><g fill="#5ec962" stroke="#5ec962"><circle cx="171.7" cy="250.1" r="2.55"/><circle cx="171.7" cy="480.5" r="2.55"/><circle cx="171.7" cy="367.1" r="2.55"/><circle cx="171.7" cy="468.4" r="2.55"/><circle cx="171.7" cy="384.4" r="2.55"/><circle cx="171.7" cy="399.0" r="2.55"/><circle cx="171.7" cy="318.9" r="2.55"/><circle cx="171.7" cy="366.9" r="2.55"/><circle cx="171.7" cy="605.0" r="2.55"/><circle cx="171.7" cy="390.2" r="2.55"/><circle cx="171.7" cy="333.4" r="2.55"/><circle cx="171.7" cy="533.4" r="2.55"/><circle cx="171.7" cy="294.5" r="2.55"/><circle cx="171.7" cy="284.3" r="2.55"/><circle cx="171.7" cy="335.3" r="2.55"/><circle cx="171.7" cy="516.7" r="2.55"/><circle cx="171.7" cy="542.4" r="2.55"/><circle cx="171.7" cy="426.7" r="2.55"/><circle cx="171.7" cy="343.3" r="2.55"/><circle cx="171.7" cy="461.8" r="2.55"/><circle cx="171.7" cy="534.3" r="2.55"/><circle cx="171.7" cy="298.3" r="2.55"/><circle cx="171.7" cy="470.3" r="2.55"/><circle cx="183.1" cy="545.2" r="2.55"/><circle cx="183.1" cy="574.6" r="2.55"/><circle cx="205.9" cy="568.0" r="2.55"/><circle cx="205.9" cy="571.7" r="2.55"/><circle cx="205.9" cy="600.0" r="2.55"/><circle cx="217.3" cy="539.4" r="2.55"/><circle cx="217.3" cy="540.8" r="2.55"/><circle cx="217.3" cy="545.8" r="2.55"/><circle cx="217.3" cy="565.8" r="2.55"/><circle cx="263.0" cy="586.7" r="2.55"/><circle cx="434.1" cy="554.5" r="2.55"/><circle cx="171.7" cy="487.5" r="2.55"/><circle cx="171.7" cy="358.3" r="2.55"/><circle cx="171.7" cy="259.0" r="2.55"/><circle cx="171.7" cy="446.2" r="2.55"/><circle cx="171.7" cy="285.9" r="2.55"/><circle cx="171.7" cy="350.2" r="2.55"/><circle cx="171.7" cy="421.7" r="2.55"/><circle cx="171.7" cy="590.0" r="2.55"/><circle cx="171.7" cy="262.0" r="2.55"/><circle cx="171.7" cy="233.2" r="2.55"/><circle cx="171.7" cy="420.0" r="2.55"/><circle cx="171.7" cy="582.2" r="2.55"/><circle cx="171.7" cy="223.2" r="2.55"/><circle cx="171.7" cy="461.8" r="2.55"/><circle cx="171.7" cy="216.5" r="2.55"/><circle cx="171.7" cy="425.8" r="2.55"/><circle cx="171.7" cy="254.4" r="2.55"/><circle cx="171.7" cy="469.4" r="2.55"/><circle cx="171.7" cy="351.1" r="2.55"/><circle cx="171.7" cy="467.8" r="2.55"/><circle cx="171.7" cy="310.4" r="2.55"/><circle cx="171.7" cy="238.7" r="2.55"/><circle cx="171.7" cy="281.1" r="2.55"/><circle cx="171.7" cy="317.7" r="2.55"/><circle cx="171.7" cy="275.5" r="2.55"/><circle cx="171.7" cy="289.0" r="2.55"/><circle cx="171.7" cy="425.3" r="2.55"/><circle cx="171.7" cy="383.3" r="2.55"/><circle cx="171.7" cy="536.6" r="2.55"/><circle cx="171.7" cy="408.4" r="2.55"/></g><g fill="#69cd5b" stroke="#69cd5b"><circle cx="171.7" cy="150.4" r="2.55"/><circle cx="171.7" cy="425.0" r="2.55"/><circle cx="171.7" cy="491.7" r="2.55"/><circle cx="171.7" cy="547.8" r="2.55"/><circle cx="171.7" cy="442.9" r="2.55"/><circle cx="171.7" cy="229.3" r="2.55"/><circle cx="171.7" cy="394.1" r="2.55"/><circle cx="171.7" cy="227.9" r="2.55"/><circle cx="171.7" cy="451.1" r="2.55"/><circle cx="171.7" cy="243.0" r="2.55"/><circle cx="171.7" cy="427.0" r="2.55"/><circle cx="171.7" cy="277.1" r="2.55"/><circle cx="171.7" cy="549.3" r="2.55"/><circle cx="171.7" cy="256.2" r="2.55"/><circle cx="171.7" cy="474.1" r="2.55"/><circle cx="171.7" cy="491.4" r="2.55"/><circle cx="171.7" cy="327.0" r="2.55"/><circle cx="171.7" cy="448.9" r="2.55"/><circle cx="171.7" cy="349.0" r="2.55"/><circle cx="171.7" cy="321.9" r="2.55"/><circle cx="171.7" cy="322.6" r="2.55"/><circle cx="171.7" cy="230.0" r="2.55"/><circle cx="171.7" cy="480.6" r="2.55"/><circle cx="171.7" cy="252.4" r="2.55"/><circle cx="171.7" cy="300.3" r="2.55"/><circle cx="171.7" cy="259.6" r="2.55"/><circle cx="171.7" cy="531.0" r="2.55"/><circle cx="171.7" cy="605.0" r="2.55"/><circle cx="171.7" cy="427.3" r="2.55"/><circle cx="171.7" cy="403.9" r="2.55"/><circle cx="365.7" cy="582.5" r="2.55"/><circle cx="171.7" cy="150.4" r="2.55"/><circle cx="171.7" cy="448.2" r="2.55"/><circle cx="171.7" cy="533.0" r="2.55"/><circle cx="171.7" cy="464.2" r="2.55"/><circle cx="171.7" cy="422.8" r="2.55"/><circle cx="171.7" cy="348.1" r="2.55"/><circle cx="171.7" cy="424.3" r="2.55"/><circle cx="171.7" cy="600.3" r="2.55"/><circle cx="171.7" cy="445.1" r="2.55"/><circle cx="171.7" cy="411.3" r="2.55"/><circle cx="171.7" cy="563.8" r="2.55"/><circle cx="171.7" cy="256.1" r="2.55"/><circle cx="171.7" cy="259.8" r="2.55"/><circle cx="171.7" cy="527.5" r="2.55"/><circle cx="171.7" cy="583.8" r="2.55"/><circle cx="171.7" cy="258.0" r="2.55"/><circle cx="171.7" cy="248.6" r="2.55"/><circle cx="171.7" cy="243.4" r="2.55"/><circle cx="171.7" cy="451.0" r="2.55"/></g><g fill="#75d054" stroke="#75d054"><circle cx="205.9" cy="565.0" r="2.55"/><circle cx="217.3" cy="529.4" r="2.55"/><circle cx="217.3" cy="597.5" r="2.55"/><circle cx="228.8" cy="597.5" r="2.55"/><circle cx="251.6" cy="567.9" r="2.55"/><circle cx="251.6" cy="583.3" r="2.55"/><circle cx="274.4" cy="595.4" r="2.55"/><circle cx="171.7" cy="292.7" r="2.55"/><circle cx="171.7" cy="446.3" r="2.55"/><circle cx="171.7" cy="483.6" r="2.55"/><circle cx="171.7" cy="249.6" r="2.55"/><circle cx="171.7" cy="558.2" r="2.55"/><circle cx="171.7" cy="335.8" r="2.55"/><circle cx="171.7" cy="444.8" r="2.55"/><circle cx="171.7" cy="372.9" r="2.55"/><circle cx="171.7" cy="369.6" r="2.55"/><circle cx="171.7" cy="392.7" r="2.55"/><circle cx="171.7" cy="250.7" r="2.55"/><circle cx="171.7" cy="402.4" r="2.55"/><circle cx="171.7" cy="344.7" r="2.55"/><circle cx="171.7" cy="377.6" r="2.55"/><circle cx="171.7" cy="309.3" r="2.55"/><circle cx="171.7" cy="370.2" r="2.55"/><circle cx="171.7" cy="499.0" r="2.55"/><circle cx="171.7" cy="599.3" r="2.55"/><circle cx="171.7" cy="325.6" r="2.55"/><circle cx="171.7" cy="558.6" r="2.55"/><circle cx="171.7" cy="471.1" r="2.55"/><circle cx="171.7" cy="294.3" r="2.55"/><circle cx="171.7" cy="264.8" r="2.55"/><circle cx="171.7" cy="565.0" r="2.55"/><circle cx="171.7" cy="605.0" r="2.55"/><circle cx="171.7" cy="343.3" r="2.55"/><circle cx="171.7" cy="300.2" r="2.55"/><circle cx="171.7" cy="487.6" r="2.55"/><circle cx="171.7" cy="505.0" r="2.55"/><circle cx="171.7" cy="569.4" r="2.55"/><circle cx="171.7" cy="435.6" r="2.55"/><circle cx="171.7" cy="371.7" r="2.55"/><circle cx="171.7" cy="373.9" r="2.55"/><circle cx="171.7" cy="335.8" r="2.55"/><circle cx="171.7" cy="481.6" r="2.55"/><circle cx="171.7" cy="585.5" r="2.55"/><circle cx="171.7" cy="295.6" r="2.55"/><circle cx="171.7" cy="398.1" r="2.55"/><circle cx="171.7" cy="386.8" r="2.55"/><circle cx="171.7" cy="296.2" r="2.55"/><circle cx="171.7" cy="469.0" r="2.55"/></g><g fill="#81d34d" stroke="#81d34d"><circle cx="183.1" cy="585.4" r="2.55"/><circle cx="196.0" cy="604.7" r="2.55"/><circle cx="217.3" cy="526.2" r="2.55"/><circle cx="217.3" cy="551.2" r="2.55"/><circle cx="217.3" cy="573.0" r="2.55"/><circle cx="217.3" cy="595.0" r="2.55"/><circle cx="240.2" cy="601.5" r="2.55"/><circle cx="297.2" cy="595.2" r="2.55"/><circle cx="308.6" cy="585.7" r="2.55"/><circle cx="308.6" cy="592.3" r="2.55"/><circle cx="171.7" cy="599.3" r="2.55"/><circle cx="171.7" cy="363.1" r="2.55"/><circle cx="171.7" cy="513.8" r="2.55"/><circle cx="171.7" cy="571.8" r="2.55"/><circle cx="171.7" cy="361.6" r="2.55"/><circle cx="171.7" cy="578.0" r="2.55"/><circle cx="171.7" cy="521.2" r="2.55"/><circle cx="171.7" cy="487.1" r="2.55"/><circle cx="171.7" cy="337.1" r="2.55"/><circle cx="171.7" cy="365.1" r="2.55"/><circle cx="171.7" cy="307.0" r="2.55"/><circle cx="171.7" cy="570.4" r="2.55"/><circle cx="171.7" cy="541.7" r="2.55"/><circle cx="171.7" cy="302.6" r="2.55"/><circle cx="171.7" cy="450.2" r="2.55"/><circle cx="171.7" cy="345.3" r="2.55"/><circle cx="171.7" cy="527.8" r="2.55"/><circle cx="171.7" cy="464.8" r="2.55"/><circle cx="171.7" cy="587.1" r="2.55"/><circle cx="171.7" cy="515.6" r="2.55"/><circle cx="171.7" cy="310.6" r="2.55"/><circle cx="171.7" cy="399.8" r="2.55"/><circle cx="171.7" cy="466.6" r="2.55"/><circle cx="171.7" cy="576.2" r="2.55"/><circle cx="171.7" cy="400.4" r="2.55"/><circle cx="171.7" cy="340.8" r="2.55"/><circle cx="196.0" cy="604.7" r="2.55"/><circle cx="171.7" cy="373.1" r="2.55"/><circle cx="171.7" cy="362.1" r="2.55"/><circle cx="171.7" cy="332.1" r="2.55"/><circle cx="171.7" cy="393.4" r="2.55"/><circle cx="171.7" cy="363.3" r="2.55"/><circle cx="171.7" cy="447.7" r="2.55"/><circle cx="171.7" cy="571.0" r="2.55"/><circle cx="171.7" cy="590.4" r="2.55"/><circle cx="171.7" cy="337.1" r="2.55"/><circle cx="171.7" cy="467.9" r="2.55"/><circle cx="171.7" cy="501.1" r="2.55"/><circle cx="171.7" cy="335.4" r="2.55"/><circle cx="171.7" cy="456.4" r="2.55"/><circle cx="171.7" cy="351.6" r="2.55"/><circle cx="171.7" cy="403.6" r="2.55"/><circle cx="171.7" cy="390.9" r="2.55"/><circle cx="171.7" cy="546.4" r="2.55"/><circle cx="171.7" cy="362.7" r="2.55"/><circle cx="171.7" cy="459.6" r="2.55"/><circle cx="171.7" cy="474.1" r="2.55"/><circle cx="171.7" cy="393.5" r="2.55"/><circle cx="171.7" cy="582.7" r="2.55"/><circle cx="171.7" cy="394.3" r="2.55"/><circle cx="171.7" cy="393.1" r="2.55"/><circle cx="171.7" cy="508.5" r="2.55"/></g><g fill="#8ed645" stroke="#8ed645"><circle cx="183.1" cy="579.6" r="2.55"/><circle cx="217.3" cy="584.5" r="2.55"/><circle cx="240.2" cy="562.5" r="2.55"/><circle cx="171.7" cy="605.0" r="2.55"/><circle cx="171.7" cy="444.8" r="2.55"/><circle cx="171.7" cy="519.1" r="2.55"/><circle cx="171.7" cy="340.7" r="2.55"/><circle cx="171.7" cy="339.6" r="2.55"/><circle cx="171.7" cy="523.0" r="2.55"/><circle cx="171.7" cy="415.0" r="2.55"/><circle cx="171.7" cy="560.7" r="2.55"/><circle cx="171.7" cy="367.4" r="2.55"/><circle cx="171.7" cy="370.1" r="2.55"/><circle cx="171.7" cy="562.8" r="2.55"/><circle cx="171.7" cy="408.2" r="2.55"/><circle cx="171.7" cy="330.7" r="2.55"/><circle cx="171.7" cy="365.2" r="2.55"/><circle cx="171.7" cy="534.2" r="2.55"/><circle cx="171.7" cy="380.3" r="2.55"/><circle cx="171.7" cy="469.2" r="2.55"/><circle cx="171.7" cy="554.5" r="2.55"/><circle cx="171.7" cy="486.1" r="2.55"/><circle cx="171.7" cy="529.5" r="2.55"/><circle cx="171.7" cy="598.0" r="2.55"/><circle cx="171.7" cy="392.2" r="2.55"/><circle cx="171.7" cy="567.6" r="2.55"/><circle cx="171.7" cy="469.2" r="2.55"/><circle cx="171.7" cy="363.8" r="2.55"/><circle cx="171.7" cy="342.9" r="2.55"/><circle cx="171.7" cy="402.2" r="2.55"/><circle cx="171.7" cy="345.0" r="2.55"/><circle cx="171.7" cy="536.2" r="2.55"/><circle cx="171.7" cy="471.8" r="2.55"/><circle cx="171.7" cy="317.7" r="2.55"/><circle cx="171.7" cy="568.5" r="2.55"/><circle cx="171.7" cy="484.0" r="2.55"/><circle cx="171.7" cy="438.3" r="2.55"/><circle cx="217.3" cy="590.6" r="2.55"/><circle cx="171.7" cy="348.9" r="2.55"/><circle cx="171.7" cy="447.2" r="2.55"/><circle cx="171.7" cy="580.4" r="2.55"/><circle cx="171.7" cy="481.6" r="2.55"/><circle cx="171.7" cy="444.4" r="2.55"/><circle cx="171.7" cy="489.4" r="2.55"/><circle cx="171.7" cy="472.6" r="2.55"/><circle cx="171.7" cy="494.2" r="2.55"/><circle cx="217.3" cy="575.1" r="2.55"/><circle cx="171.7" cy="369.9" r="2.55"/><circle cx="171.7" cy="355.5" r="2.55"/><circle cx="171.7" cy="316.7" r="2.55"/><circle cx="171.7" cy="555.9" r="2.55"/></g><g fill="#9bd93c" stroke="#9bd93c"><circle cx="171.7" cy="314.5" r="2.55"/><circle cx="171.7" cy="388.3" r="2.55"/><circle cx="171.7" cy="484.2" r="2.55"/><circle cx="171.7" cy="459.5" r="2.55"/><circle cx="171.7" cy="576.4" r="2.55"/><circle cx="171.7" cy="377.0" r="2.55"/><circle cx="171.7" cy="348.8" r="2.55"/><circle cx="171.7" cy="362.9" r="2.55"/><circle cx="171.7" cy="460.9" r="2.55"/><circle cx="171.7" cy="401.9" r="2.55"/><circle cx="171.7" cy="449.1" r="2.55"/><circle cx="171.7" cy="515.7" r="2.55"/><circle cx="217.3" cy="593.7" r="2.55"/><circle cx="171.7" cy="605.0" r="2.55"/><circle cx="171.7" cy="411.9" r="2.55"/><circle cx="217.3" cy="596.8" r="2.55"/><circle cx="171.7" cy="509.9" r="2.55"/><circle cx="171.7" cy="326.7" r="2.55"/><circle cx="171.7" cy="476.3" r="2.55"/><circle cx="171.7" cy="578.8" r="2.55"/><circle cx="171.7" cy="586.4" r="2.55"/><circle cx="171.7" cy="484.4" r="2.55"/><circle cx="171.7" cy="600.2" r="2.55"/><circle cx="183.1" cy="534.4" r="2.55"/><circle cx="183.1" cy="599.0" r="2.55"/><circle cx="194.5" cy="485.6" r="2.55"/><circle cx="194.5" cy="510.0" r="2.55"/><circle cx="205.9" cy="596.7" r="2.55"/><circle cx="217.3" cy="556.7" r="2.55"/><circle cx="217.3" cy="575.8" r="2.55"/><circle cx="217.3" cy="578.5" r="2.55"/><circle cx="217.3" cy="590.0" r="2.55"/><circle cx="217.3" cy="592.5" r="2.55"/><circle cx="217.3" cy="600.5" r="2.55"/><circle cx="240.2" cy="580.8" r="2.55"/><circle cx="240.2" cy="598.3" r="2.55"/><circle cx="251.6" cy="605.0" r="2.55"/><circle cx="263.0" cy="579.3" r="2.55"/><circle cx="171.7" cy="390.9" r="2.55"/><circle cx="171.7" cy="408.7" r="2.55"/><circle cx="171.7" cy="450.8" r="2.55"/><circle cx="171.7" cy="467.9" r="2.55"/><circle cx="171.7" cy="554.6" r="2.55"/><circle cx="171.7" cy="450.8" r="2.55"/><circle cx="171.7" cy="339.4" r="2.55"/><circle cx="171.7" cy="521.5" r="2.55"/><circle cx="171.7" cy="388.9" r="2.55"/><circle cx="171.7" cy="572.3" r="2.55"/><circle cx="171.7" cy="386.5" r="2.55"/><circle cx="171.7" cy="409.9" r="2.55"/><circle cx="171.7" cy="366.5" r="2.55"/><circle cx="171.7" cy="412.8" r="2.55"/><circle cx="217.3" cy="603.0" r="2.55"/><circle cx="171.7" cy="495.9" r="2.55"/><circle cx="171.7" cy="405.0" r="2.55"/><circle cx="171.7" cy="346.2" r="2.55"/><circle cx="171.7" cy="492.6" r="2.55"/><circle cx="171.7" cy="533.3" r="2.55"/><circle cx="171.7" cy="364.3" r="2.55"/></g><g fill="#a8db34" stroke="#a8db34"><circle cx="251.6" cy="605.0" r="2.55"/><circle cx="171.7" cy="449.8" r="2.55"/><circle cx="171.7" cy="354.1" r="2.55"/><circle cx="171.7" cy="340.7" r="2.55"/><circle cx="171.7" cy="437.3" r="2.55"/><circle cx="171.7" cy="414.8" r="2.55"/><circle cx="171.7" cy="571.8" r="2.55"/><circle cx="171.7" cy="342.6" r="2.55"/><circle cx="171.7" cy="511.0" r="2.55"/><circle cx="171.7" cy="534.2" r="2.55"/><circle cx="171.7" cy="450.8" r="2.55"/><circle cx="251.6" cy="605.0" r="2.55"/><circle cx="171.7" cy="473.2" r="2.55"/><circle cx="171.7" cy="407.4" r="2.55"/><circle cx="171.7" cy="408.8" r="2.55"/><circle cx="171.7" cy="356.6" r="2.55"/><circle cx="171.7" cy="580.4" r="2.55"/><circle cx="171.7" cy="351.8" r="2.55"/><circle cx="171.7" cy="380.7" r="2.55"/><circle cx="171.7" cy="533.4" r="2.55"/><circle cx="171.7" cy="464.6" r="2.55"/><circle cx="251.6" cy="605.0" r="2.55"/><circle cx="171.7" cy="479.4" r="2.55"/><circle cx="171.7" cy="423.6" r="2.55"/><circle cx="171.7" cy="389.6" r="2.55"/><circle cx="171.7" cy="553.6" r="2.55"/><circle cx="217.3" cy="587.5" r="2.55"/><circle cx="240.2" cy="583.8" r="2.55"/><circle cx="171.7" cy="381.0" r="2.55"/><circle cx="171.7" cy="425.2" r="2.55"/><circle cx="171.7" cy="542.0" r="2.55"/><circle cx="171.7" cy="426.8" r="2.55"/><circle cx="171.7" cy="592.7" r="2.55"/><circle cx="171.7" cy="605.0" r="2.55"/><circle cx="171.7" cy="397.4" r="2.55"/><circle cx="171.7" cy="486.3" r="2.55"/><circle cx="171.7" cy="489.0" r="2.55"/><circle cx="171.7" cy="479.7" r="2.55"/><circle cx="171.7" cy="548.4" r="2.55"/><circle cx="171.7" cy="365.9" r="2.55"/><circle cx="171.7" cy="491.5" r="2.55"/><circle cx="217.3" cy="572.0" r="2.55"/><circle cx="171.7" cy="552.8" r="2.55"/><circle cx="171.7" cy="370.6" r="2.55"/><circle cx="171.7" cy="493.4" r="2.55"/><circle cx="171.7" cy="467.5" r="2.55"/><circle cx="217.3" cy="587.5" r="2.55"/><circle cx="171.7" cy="458.8" r="2.55"/><circle cx="171.7" cy="491.8" r="2.55"/><circle cx="171.7" cy="513.2" r="2.55"/><circle cx="171.7" cy="532.7" r="2.55"/><circle cx="171.7" cy="580.2" r="2.55"/><circle cx="171.7" cy="521.8" r="2.55"/></g><g fill="#b5de2b" stroke="#b5de2b"><circle cx="183.1" cy="501.9" r="2.55"/><circle cx="194.5" cy="517.5" r="2.55"/><circle cx="445.5" cy="605.0" r="2.55"/><circle cx="171.7" cy="604.7" r="2.55"/><circle cx="171.7" cy="524.1" r="2.55"/><circle cx="194.5" cy="531.0" r="2.55"/><circle cx="171.7" cy="428.8" r="2.55"/><circle cx="171.7" cy="400.1" r="2.55"/><circle cx="171.7" cy="382.9" r="2.55"/><circle cx="194.5" cy="537.0" r="2.55"/><circle cx="171.7" cy="431.0" r="2.55"/><circle cx="194.5" cy="571.0" r="2.55"/><circle cx="194.5" cy="533.0" r="2.55"/><circle cx="171.7" cy="397.2" r="2.55"/><circle cx="194.5" cy="577.0" r="2.55"/><circle cx="194.5" cy="563.0" r="2.55"/><circle cx="171.7" cy="530.4" r="2.55"/><circle cx="171.7" cy="532.0" r="2.55"/><circle cx="171.7" cy="514.0" r="2.55"/><circle cx="171.7" cy="460.9" r="2.55"/><circle cx="171.7" cy="479.9" r="2.55"/><circle cx="171.7" cy="432.3" r="2.55"/><circle cx="171.7" cy="586.1" r="2.55"/><circle cx="171.7" cy="376.3" r="2.55"/><circle cx="171.7" cy="447.8" r="2.55"/><circle cx="217.3" cy="578.2" r="2.55"/><circle cx="194.5" cy="557.0" r="2.55"/><circle cx="171.7" cy="506.4" r="2.55"/><circle cx="171.7" cy="416.1" r="2.55"/><circle cx="171.7" cy="571.4" r="2.55"/><circle cx="194.5" cy="581.0" r="2.55"/><circle cx="171.7" cy="485.6" r="2.55"/><circle cx="171.7" cy="460.8" r="2.55"/><circle cx="171.7" cy="390.8" r="2.55"/><circle cx="171.7" cy="440.9" r="2.55"/><circle cx="171.7" cy="511.8" r="2.55"/><circle cx="194.5" cy="529.0" r="2.55"/><circle cx="171.7" cy="442.4" r="2.55"/><circle cx="171.7" cy="389.2" r="2.55"/><circle cx="171.7" cy="510.4" r="2.55"/><circle cx="171.7" cy="448.6" r="2.55"/><circle cx="194.5" cy="525.0" r="2.55"/><circle cx="194.5" cy="567.0" r="2.55"/><circle cx="171.7" cy="570.7" r="2.55"/><circle cx="194.5" cy="583.0" r="2.55"/><circle cx="171.7" cy="536.5" r="2.55"/><circle cx="171.7" cy="543.1" r="2.55"/><circle cx="171.7" cy="580.6" r="2.55"/><circle cx="194.5" cy="555.0" r="2.55"/><circle cx="171.7" cy="563.0" r="2.55"/><circle cx="217.3" cy="599.9" r="2.55"/><circle cx="171.7" cy="456.8" r="2.55"/><circle cx="171.7" cy="510.0" r="2.55"/><circle cx="194.5" cy="559.0" r="2.55"/><circle cx="171.7" cy="442.8" r="2.55"/><circle cx="194.5" cy="521.0" r="2.55"/><circle cx="171.7" cy="430.9" r="2.55"/><circle cx="171.7" cy="431.9" r="2.55"/><circle cx="171.7" cy="411.3" r="2.55"/><circle cx="171.7" cy="439.2" r="2.55"/><circle cx="171.7" cy="436.2" r="2.55"/><circle cx="171.7" cy="534.0" r="2.55"/><circle cx="171.7" cy="442.7" r="2.55"/><circle cx="171.7" cy="605.0" r="2.55"/><circle cx="171.7" cy="398.5" r="2.55"/><circle cx="171.7" cy="479.8" r="2.55"/><circle cx="171.7" cy="432.1" r="2.55"/><circle cx="194.5" cy="561.0" r="2.55"/><circle cx="171.7" cy="537.8" r="2.55"/><circle cx="171.7" cy="437.7" r="2.55"/><circle cx="171.7" cy="510.6" r="2.55"/></g><g fill="#c2df23" stroke="#c2df23"><circle cx="183.1" cy="602.0" r="2.55"/><circle cx="194.5" cy="438.5" r="2.55"/><circle cx="194.5" cy="522.0" r="2.55"/><circle cx="194.5" cy="525.0" r="2.55"/><circle cx="194.5" cy="528.0" r="2.55"/><circle cx="194.5" cy="531.0" r="2.55"/><circle cx="194.5" cy="562.0" r="2.55"/><circle cx="194.5" cy="571.0" r="2.55"/><circle cx="205.9" cy="559.6" r="2.55"/><circle cx="205.9" cy="603.0" r="2.55"/><circle cx="240.2" cy="588.8" r="2.55"/><circle cx="297.2" cy="605.0" r="2.55"/><circle cx="320.0" cy="605.0" r="2.55"/><circle cx="377.1" cy="571.0" r="2.55"/><circle cx="434.1" cy="605.0" r="2.55"/><circle cx="536.8" cy="605.0" r="2.55"/><circle cx="263.0" cy="605.0" r="2.55"/><circle cx="274.4" cy="605.0" r="2.55"/><circle cx="285.8" cy="605.0" r="2.55"/><circle cx="297.2" cy="605.0" r="2.55"/><circle cx="171.7" cy="429.7" r="2.55"/><circle cx="171.7" cy="495.2" r="2.55"/><circle cx="171.7" cy="576.9" r="2.55"/><circle cx="171.7" cy="457.7" r="2.55"/><circle cx="194.5" cy="547.0" r="2.55"/><circle cx="171.7" cy="505.2" r="2.55"/><circle cx="194.5" cy="553.0" r="2.55"/><circle cx="171.7" cy="487.6" r="2.55"/><circle cx="171.7" cy="411.4" r="2.55"/><circle cx="194.5" cy="535.0" r="2.55"/><circle cx="171.7" cy="403.0" r="2.55"/><circle cx="171.7" cy="572.5" r="2.55"/><circle cx="263.0" cy="605.0" r="2.55"/><circle cx="274.4" cy="605.0" r="2.55"/><circle cx="285.8" cy="605.0" r="2.55"/><circle cx="297.2" cy="605.0" r="2.55"/><circle cx="171.7" cy="469.5" r="2.55"/><circle cx="171.7" cy="540.5" r="2.55"/><circle cx="171.7" cy="485.0" r="2.55"/><circle cx="171.7" cy="572.2" r="2.55"/><circle cx="171.7" cy="442.4" r="2.55"/><circle cx="171.7" cy="501.0" r="2.55"/><circle cx="194.5" cy="569.0" r="2.55"/><circle cx="171.7" cy="514.7" r="2.55"/><circle cx="194.5" cy="573.0" r="2.55"/><circle cx="263.0" cy="605.0" r="2.55"/><circle cx="274.4" cy="605.0" r="2.55"/><circle cx="285.8" cy="605.0" r="2.55"/><circle cx="297.2" cy="605.0" r="2.55"/><circle cx="194.5" cy="543.0" r="2.55"/><circle cx="171.7" cy="564.1" r="2.55"/><circle cx="171.7" cy="413.6" r="2.55"/><circle cx="228.8" cy="605.0" r="2.55"/><circle cx="240.2" cy="605.0" r="2.55"/><circle cx="171.7" cy="480.3" r="2.55"/><circle cx="171.7" cy="502.5" r="2.55"/><circle cx="194.5" cy="545.0" r="2.55"/><circle cx="194.5" cy="541.0" r="2.55"/><circle cx="171.7" cy="525.9" r="2.55"/><circle cx="171.7" cy="440.2" r="2.55"/><circle cx="194.5" cy="575.0" r="2.55"/><circle cx="171.7" cy="518.3" r="2.55"/><circle cx="228.8" cy="605.0" r="2.55"/><circle cx="240.2" cy="605.0" r="2.55"/><circle cx="171.7" cy="547.3" r="2.55"/><circle cx="171.7" cy="554.8" r="2.55"/><circle cx="171.7" cy="459.7" r="2.55"/><circle cx="171.7" cy="500.4" r="2.55"/><circle cx="171.7" cy="474.0" r="2.55"/><circle cx="171.7" cy="490.9" r="2.55"/><circle cx="171.7" cy="486.5" r="2.55"/><circle cx="171.7" cy="594.8" r="2.55"/><circle cx="194.5" cy="551.0" r="2.55"/><circle cx="171.7" cy="422.2" r="2.55"/><circle cx="171.7" cy="595.3" r="2.55"/><circle cx="171.7" cy="426.2" r="2.55"/><circle cx="171.7" cy="435.3" r="2.55"/><circle cx="171.7" cy="459.2" r="2.55"/><circle cx="171.7" cy="474.2" r="2.55"/><circle cx="228.8" cy="605.0" r="2.55"/><circle cx="240.2" cy="605.0" r="2.55"/><circle cx="171.7" cy="579.1" r="2.55"/><circle cx="171.7" cy="576.1" r="2.55"/><circle cx="194.5" cy="523.0" r="2.55"/><circle cx="171.7" cy="593.2" r="2.55"/><circle cx="171.7" cy="495.2" r="2.55"/><circle cx="171.7" cy="428.2" r="2.55"/><circle cx="171.7" cy="537.8" r="2.55"/><circle cx="171.7" cy="586.9" r="2.55"/></g><g fill="#d2e21b" stroke="#d2e21b"><circle cx="183.1" cy="510.6" r="2.55"/><circle cx="194.5" cy="553.0" r="2.55"/><circle cx="194.5" cy="556.0" r="2.55"/><circle cx="194.5" cy="565.0" r="2.55"/><circle cx="194.5" cy="568.0" r="2.55"/><circle cx="194.5" cy="574.0" r="2.55"/><circle cx="194.5" cy="580.0" r="2.55"/><circle cx="205.9" cy="605.0" r="2.55"/><circle cx="217.3" cy="603.3" r="2.55"/><circle cx="228.8" cy="605.0" r="2.55"/><circle cx="240.2" cy="605.0" r="2.55"/><circle cx="263.0" cy="605.0" r="2.55"/><circle cx="274.4" cy="605.0" r="2.55"/><circle cx="285.8" cy="605.0" r="2.55"/><circle cx="377.1" cy="605.2" r="2.55"/><circle cx="422.7" cy="605.0" r="2.55"/><circle cx="205.9" cy="605.0" r="2.55"/><circle cx="217.3" cy="605.0" r="2.55"/><circle cx="171.7" cy="446.5" r="2.55"/><circle cx="171.7" cy="574.7" r="2.55"/><circle cx="171.7" cy="429.8" r="2.55"/><circle cx="171.7" cy="558.3" r="2.55"/><circle cx="171.7" cy="516.7" r="2.55"/><circle cx="171.7" cy="589.1" r="2.55"/><circle cx="171.7" cy="605.0" r="2.55"/><circle cx="171.7" cy="583.4" r="2.55"/><circle cx="171.7" cy="440.8" r="2.55"/><circle cx="171.7" cy="518.6" r="2.55"/><circle cx="171.7" cy="474.6" r="2.55"/><circle cx="171.7" cy="508.6" r="2.55"/><circle cx="205.9" cy="605.0" r="2.55"/><circle cx="217.3" cy="605.0" r="2.55"/><circle cx="194.5" cy="549.0" r="2.55"/><circle cx="171.7" cy="445.2" r="2.55"/><circle cx="171.7" cy="497.2" r="2.55"/><circle cx="171.7" cy="505.6" r="2.55"/><circle cx="194.5" cy="565.0" r="2.55"/><circle cx="171.7" cy="438.1" r="2.55"/><circle cx="171.7" cy="517.4" r="2.55"/><circle cx="171.7" cy="587.5" r="2.55"/><circle cx="194.5" cy="527.0" r="2.55"/><circle cx="171.7" cy="449.5" r="2.55"/><circle cx="171.7" cy="595.9" r="2.55"/><circle cx="171.7" cy="520.8" r="2.55"/><circle cx="205.9" cy="605.0" r="2.55"/><circle cx="217.3" cy="605.0" r="2.55"/><circle cx="171.7" cy="475.3" r="2.55"/><circle cx="194.5" cy="579.0" r="2.55"/><circle cx="194.5" cy="539.0" r="2.55"/><circle cx="171.7" cy="600.0" r="2.55"/><circle cx="194.5" cy="541.0" r="2.55"/><circle cx="194.5" cy="550.0" r="2.55"/><circle cx="194.5" cy="559.0" r="2.55"/><circle cx="194.5" cy="577.0" r="2.55"/><circle cx="194.5" cy="583.0" r="2.55"/><circle cx="217.3" cy="605.0" r="2.55"/><circle cx="171.7" cy="521.3" r="2.55"/><circle cx="171.7" cy="516.2" r="2.55"/><circle cx="171.7" cy="508.0" r="2.55"/><circle cx="171.7" cy="586.6" r="2.55"/><circle cx="171.7" cy="472.7" r="2.55"/><circle cx="171.7" cy="485.2" r="2.55"/><circle cx="171.7" cy="496.3" r="2.55"/><circle cx="171.7" cy="464.0" r="2.55"/><circle cx="171.7" cy="581.6" r="2.55"/><circle cx="171.7" cy="528.3" r="2.55"/><circle cx="171.7" cy="545.5" r="2.55"/><circle cx="171.7" cy="588.0" r="2.55"/><circle cx="171.7" cy="530.1" r="2.55"/><circle cx="171.7" cy="498.1" r="2.55"/><circle cx="171.7" cy="536.1" r="2.55"/><circle cx="171.7" cy="532.2" r="2.55"/><circle cx="171.7" cy="502.9" r="2.55"/><circle cx="171.7" cy="493.2" r="2.55"/><circle cx="171.7" cy="511.5" r="2.55"/><circle cx="194.5" cy="591.0" r="2.55"/><circle cx="171.7" cy="566.7" r="2.55"/><circle cx="171.7" cy="484.5" r="2.55"/></g><g fill="#dfe318" stroke="#dfe318"><circle cx="171.7" cy="604.4" r="2.55"/><circle cx="194.5" cy="601.0" r="2.55"/><circle cx="171.7" cy="496.8" r="2.55"/><circle cx="171.7" cy="502.2" r="2.55"/><circle cx="171.7" cy="481.8" r="2.55"/><circle cx="171.7" cy="519.6" r="2.55"/><circle cx="194.5" cy="593.0" r="2.55"/><circle cx="171.7" cy="517.4" r="2.55"/><circle cx="171.7" cy="560.7" r="2.55"/><circle cx="194.5" cy="587.0" r="2.55"/><circle cx="171.7" cy="590.7" r="2.55"/><circle cx="171.7" cy="502.1" r="2.55"/><circle cx="171.7" cy="579.1" r="2.55"/><circle cx="171.7" cy="511.1" r="2.55"/><circle cx="171.7" cy="524.5" r="2.55"/><circle cx="171.7" cy="486.9" r="2.55"/><circle cx="171.7" cy="590.5" r="2.55"/><circle cx="171.7" cy="520.6" r="2.55"/><circle cx="171.7" cy="564.8" r="2.55"/><circle cx="171.7" cy="474.9" r="2.55"/><circle cx="194.5" cy="605.0" r="2.55"/><circle cx="171.7" cy="565.4" r="2.55"/><circle cx="171.7" cy="503.9" r="2.55"/><circle cx="171.7" cy="533.4" r="2.55"/><circle cx="171.7" cy="562.5" r="2.55"/><circle cx="171.7" cy="605.0" r="2.55"/><circle cx="171.7" cy="497.9" r="2.55"/><circle cx="194.5" cy="535.0" r="2.55"/><circle cx="194.5" cy="538.0" r="2.55"/><circle cx="194.5" cy="544.0" r="2.55"/><circle cx="194.5" cy="547.0" r="2.55"/><circle cx="194.5" cy="586.0" r="2.55"/><circle cx="194.5" cy="592.0" r="2.55"/><circle cx="171.7" cy="545.0" r="2.55"/><circle cx="171.7" cy="584.2" r="2.55"/><circle cx="171.7" cy="499.0" r="2.55"/><circle cx="171.7" cy="537.6" r="2.55"/><circle cx="194.5" cy="603.0" r="2.55"/><circle cx="171.7" cy="501.8" r="2.55"/><circle cx="171.7" cy="496.7" r="2.55"/><circle cx="171.7" cy="540.6" r="2.55"/><circle cx="171.7" cy="536.5" r="2.55"/><circle cx="171.7" cy="560.1" r="2.55"/><circle cx="171.7" cy="587.1" r="2.55"/><circle cx="171.7" cy="568.2" r="2.55"/><circle cx="171.7" cy="521.8" r="2.55"/><circle cx="171.7" cy="499.5" r="2.55"/><circle cx="171.7" cy="541.2" r="2.55"/><circle cx="171.7" cy="492.0" r="2.55"/><circle cx="194.5" cy="595.0" r="2.55"/><circle cx="171.7" cy="564.8" r="2.55"/><circle cx="171.7" cy="482.0" r="2.55"/><circle cx="171.7" cy="585.1" r="2.55"/><circle cx="194.5" cy="585.0" r="2.55"/><circle cx="171.7" cy="494.5" r="2.55"/><circle cx="171.7" cy="566.1" r="2.55"/><circle cx="171.7" cy="544.0" r="2.55"/></g><g fill="#ece51b" stroke="#ece51b"><circle cx="194.5" cy="589.0" r="2.55"/><circle cx="194.5" cy="595.0" r="2.55"/><circle cx="171.7" cy="498.8" r="2.55"/><circle cx="171.7" cy="588.9" r="2.55"/><circle cx="171.7" cy="517.1" r="2.55"/><circle cx="171.7" cy="532.2" r="2.55"/><circle cx="171.7" cy="590.9" r="2.55"/><circle cx="171.7" cy="508.1" r="2.55"/><circle cx="171.7" cy="594.5" r="2.55"/><circle cx="171.7" cy="511.1" r="2.55"/><circle cx="171.7" cy="493.9" r="2.55"/><circle cx="171.7" cy="545.8" r="2.55"/><circle cx="171.7" cy="580.1" r="2.55"/><circle cx="171.7" cy="532.4" r="2.55"/><circle cx="171.7" cy="585.9" r="2.55"/><circle cx="171.7" cy="531.9" r="2.55"/><circle cx="171.7" cy="487.0" r="2.55"/><circle cx="194.5" cy="597.0" r="2.55"/><circle cx="194.5" cy="589.0" r="2.55"/><circle cx="171.7" cy="582.7" r="2.55"/><circle cx="171.7" cy="498.2" r="2.55"/><circle cx="194.5" cy="599.0" r="2.55"/><circle cx="171.7" cy="518.8" r="2.55"/><circle cx="171.7" cy="499.5" r="2.55"/><circle cx="171.7" cy="484.5" r="2.55"/><circle cx="171.7" cy="573.7" r="2.55"/><circle cx="171.7" cy="541.4" r="2.55"/><circle cx="171.7" cy="497.0" r="2.55"/><circle cx="171.7" cy="563.8" r="2.55"/><circle cx="171.7" cy="514.0" r="2.55"/><circle cx="171.7" cy="573.3" r="2.55"/><circle cx="171.7" cy="604.1" r="2.55"/><circle cx="171.7" cy="495.3" r="2.55"/><circle cx="171.7" cy="524.1" r="2.55"/><circle cx="171.7" cy="589.5" r="2.55"/><circle cx="171.7" cy="587.5" r="2.55"/><circle cx="183.1" cy="605.0" r="2.55"/><circle cx="194.5" cy="598.0" r="2.55"/><circle cx="194.5" cy="601.0" r="2.55"/><circle cx="194.5" cy="604.0" r="2.55"/><circle cx="171.7" cy="589.9" r="2.55"/><circle cx="171.7" cy="514.1" r="2.55"/><circle cx="171.7" cy="502.0" r="2.55"/><circle cx="171.7" cy="489.5" r="2.55"/><circle cx="171.7" cy="553.8" r="2.55"/><circle cx="171.7" cy="497.9" r="2.55"/><circle cx="171.7" cy="538.4" r="2.55"/><circle cx="171.7" cy="555.4" r="2.55"/><circle cx="171.7" cy="605.0" r="2.55"/><circle cx="171.7" cy="504.5" r="2.55"/><circle cx="171.7" cy="519.0" r="2.55"/><circle cx="171.7" cy="538.0" r="2.55"/><circle cx="171.7" cy="531.6" r="2.55"/><circle cx="171.7" cy="499.2" r="2.55"/><circle cx="171.7" cy="497.8" r="2.55"/><circle cx="171.7" cy="579.8" r="2.55"/><circle cx="171.7" cy="490.5" r="2.55"/><circle cx="171.7" cy="603.4" r="2.55"/><circle cx="171.7" cy="593.3" r="2.55"/><circle cx="171.7" cy="603.6" r="2.55"/></g><g fill="#f8e621" stroke="#f8e621"><circle cx="194.5" cy="605.0" r="2.55"/><circle cx="377.1" cy="602.8" r="2.55"/><circle cx="183.1" cy="605.0" r="2.55"/><circle cx="194.5" cy="605.0" r="2.55"/><circle cx="171.7" cy="580.6" r="2.55"/><circle cx="171.7" cy="491.8" r="2.55"/><circle cx="171.7" cy="505.2" r="2.55"/><circle cx="171.7" cy="528.6" r="2.55"/><circle cx="183.1" cy="605.0" r="2.55"/><circle cx="194.5" cy="605.0" r="2.55"/><circle cx="171.7" cy="513.3" r="2.55"/><circle cx="171.7" cy="499.8" r="2.55"/><circle cx="171.7" cy="505.6" r="2.55"/><circle cx="171.7" cy="534.2" r="2.55"/><circle cx="171.7" cy="536.8" r="2.55"/><circle cx="171.7" cy="506.9" r="2.55"/><circle cx="171.7" cy="529.0" r="2.55"/><circle cx="171.7" cy="594.0" r="2.55"/><circle cx="171.7" cy="597.9" r="2.55"/><circle cx="171.7" cy="516.0" r="2.55"/><circle cx="171.7" cy="599.2" r="2.55"/><circle cx="171.7" cy="540.7" r="2.55"/><circle cx="171.7" cy="535.5" r="2.55"/><circle cx="171.7" cy="574.5" r="2.55"/><circle cx="171.7" cy="595.8" r="2.55"/><circle cx="171.7" cy="555.0" r="2.55"/><circle cx="171.7" cy="548.5" r="2.55"/><circle cx="171.7" cy="538.1" r="2.55"/><circle cx="171.7" cy="514.7" r="2.55"/><circle cx="171.7" cy="582.3" r="2.55"/><circle cx="171.7" cy="521.2" r="2.55"/><circle cx="171.7" cy="586.2" r="2.55"/><circle cx="171.7" cy="595.3" r="2.55"/><circle cx="171.7" cy="595.1" r="2.55"/><circle cx="171.7" cy="603.1" r="2.55"/><circle cx="171.7" cy="557.6" r="2.55"/><circle cx="183.1" cy="605.0" r="2.55"/><circle cx="194.5" cy="605.0" r="2.55"/><circle cx="171.7" cy="579.3" r="2.55"/><circle cx="171.7" cy="568.0" r="2.55"/><circle cx="171.7" cy="522.8" r="2.55"/><circle cx="171.7" cy="531.6" r="2.55"/><circle cx="171.7" cy="588.8" r="2.55"/><circle cx="171.7" cy="519.9" r="2.55"/><circle cx="171.7" cy="585.1" r="2.55"/><circle cx="171.7" cy="587.5" r="2.55"/><circle cx="171.7" cy="525.1" r="2.55"/><circle cx="171.7" cy="544.6" r="2.55"/><circle cx="171.7" cy="581.0" r="2.55"/><circle cx="171.7" cy="503.0" r="2.55"/><circle cx="171.7" cy="553.7" r="2.55"/><circle cx="171.7" cy="601.8" r="2.55"/><circle cx="171.7" cy="588.8" r="2.55"/><circle cx="171.7" cy="530.8" r="2.55"/><circle cx="171.7" cy="509.4" r="2.55"/><circle cx="171.7" cy="510.3" r="2.55"/><circle cx="171.7" cy="583.6" r="2.55"/><circle cx="171.7" cy="579.7" r="2.55"/><circle cx="171.7" cy="552.4" r="2.55"/><circle cx="171.7" cy="562.8" r="2.55"/><circle cx="171.7" cy="540.3" r="2.55"/><circle cx="171.7" cy="584.9" r="2.55"/><circle cx="171.7" cy="532.9" r="2.55"/><circle cx="171.7" cy="586.6" r="2.55"/><circle cx="171.7" cy="561.5" r="2.55"/><circle cx="171.7" cy="517.3" r="2.55"/><circle cx="171.7" cy="504.1" r="2.55"/><circle cx="171.7" cy="542.7" r="2.55"/><circle cx="171.7" cy="534.6" r="2.55"/><circle cx="171.7" cy="593.3" r="2.55"/><circle cx="171.7" cy="512.6" r="2.55"/><circle cx="171.7" cy="567.4" r="2.55"/><circle cx="171.7" cy="570.6" r="2.55"/><circle cx="171.7" cy="531.2" r="2.55"/><circle cx="171.7" cy="573.2" r="2.55"/><circle cx="171.7" cy="523.8" r="2.55"/><circle cx="171.7" cy="558.9" r="2.55"/><circle cx="171.7" cy="566.6" r="2.55"/><circle cx="171.7" cy="585.7" r="2.55"/><circle cx="171.7" cy="591.4" r="2.55"/><circle cx="171.7" cy="522.5" r="2.55"/><circle cx="171.7" cy="586.0" r="2.55"/><circle cx="171.7" cy="551.1" r="2.55"/><circle cx="171.7" cy="588.2" r="2.55"/><circle cx="171.7" cy="530.3" r="2.55"/><circle cx="171.7" cy="528.4" r="2.55"/><circle cx="171.7" cy="600.5" r="2.55"/><circle cx="171.7" cy="526.7" r="2.55"/><circle cx="171.7" cy="510.2" r="2.55"/><circle cx="171.7" cy="512.1" r="2.55"/><circle cx="171.7" cy="571.9" r="2.55"/><circle cx="171.7" cy="518.6" r="2.55"/><circle cx="171.7" cy="524.6" r="2.55"/><circle cx="171.7" cy="549.8" r="2.55"/><circle cx="171.7" cy="510.8" r="2.55"/><circle cx="171.7" cy="566.7" r="2.55"/><circle cx="171.7" cy="565.4" r="2.55"/><circle cx="171.7" cy="513.4" r="2.55"/><circle cx="171.7" cy="508.2" r="2.55"/><circle cx="171.7" cy="604.4" r="2.55"/><circle cx="171.7" cy="605.7" r="2.55"/><circle cx="171.7" cy="510.4" r="2.55"/><circle cx="171.7" cy="569.3" r="2.55"/><circle cx="171.7" cy="556.3" r="2.55"/><circle cx="171.7" cy="539.4" r="2.55"/><circle cx="171.7" cy="581.8" r="2.55"/><circle cx="171.7" cy="509.5" r="2.55"/><circle cx="171.7" cy="503.0" r="2.55"/><circle cx="171.7" cy="545.9" r="2.55"/><circle cx="171.7" cy="577.1" r="2.55"/><circle cx="171.7" cy="518.5" r="2.55"/><circle cx="171.7" cy="582.6" r="2.55"/><circle cx="171.7" cy="504.3" r="2.55"/><circle cx="171.7" cy="580.4" r="2.55"/><circle cx="171.7" cy="602.2" r="2.55"/><circle cx="171.7" cy="543.3" r="2.55"/><circle cx="171.7" cy="539.5" r="2.55"/><circle cx="171.7" cy="592.7" r="2.55"/><circle cx="171.7" cy="590.1" r="2.55"/><circle cx="171.7" cy="575.8" r="2.55"/><circle cx="171.7" cy="542.0" r="2.55"/><circle cx="171.7" cy="526.4" r="2.55"/><circle cx="171.7" cy="560.2" r="2.55"/><circle cx="171.7" cy="564.1" r="2.55"/><circle cx="171.7" cy="504.3" r="2.55"/><circle cx="171.7" cy="527.7" r="2.55"/><circle cx="171.7" cy="547.2" r="2.55"/><circle cx="171.7" cy="596.6" r="2.55"/><circle cx="171.7" cy="578.4" r="2.55"/><circle cx="171.7" cy="584.8" r="2.55"/><circle cx="171.7" cy="605.0" r="2.55"/></g></g>
</g>
<path d="M168.0,606.9L169.9,608.8" stroke="#2b0b3f" stroke-width="0.9" fill="none"/>
<g fill="none" stroke="#000" stroke-width="1.667" stroke-linejoin="miter">
<rect x="146" y="56" width="565" height="575"/>
<path d="M172,631v7.29M247,631v7.29M322,631v7.29M396,631v7.29M471,631v7.29M546,631v7.29M621,631v7.29M696,631v7.29M146,605h-7.29M146,526h-7.29M146,446h-7.29M146,367h-7.29M146,288h-7.29M146,208h-7.29M146,129h-7.29M775,631h7.29M775,487h7.29M775,344h7.29M775,200h7.29M775,56h7.29"/>
</g>
<rect x="746" y="56" width="29" height="575" fill="url(#vg)" stroke="#000" stroke-width="1.667"/>
<path d="M932,314.6V300.4M928.5,303.7L932,300.2L935.5,303.7" fill="none" stroke="#000" stroke-width="1.75" stroke-linecap="square" stroke-linejoin="miter"/>
<text transform="translate(176.84,43.00) rotate(0.05) scale(1.0787,1.0511)" font-size="25.0">L</text>
<text transform="translate(191.32,42.74) rotate(0.05) scale(1.0353,1.0370)" font-size="25.0">u</text>
<text transform="translate(207.14,43.00) rotate(0.05) scale(1.1429,1.0467)" font-size="25.0">m</text>
<text transform="translate(231.56,43.00) rotate(0.05) scale(0.8889,1.0483)" font-size="25.0">i</text>
<text transform="translate(238.16,43.00) rotate(0.05) scale(1.1294,1.0467)" font-size="25.0">n</text>
<text transform="translate(253.94,42.74) rotate(0.05) scale(0.9412,1.0275)" font-size="25.0">a</text>
<text transform="translate(269.16,43.00) rotate(0.05) scale(1.1294,1.0467)" font-size="25.0">n</text>
<text transform="translate(284.85,42.74) rotate(0.05) scale(1.0233,1.0275)" font-size="25.0">c</text>
<text transform="translate(298.74,42.74) rotate(0.05) scale(1.1183,1.0275)" font-size="25.0">e</text>
<text transform="translate(321.74,42.74) rotate(0.05) scale(1.1183,1.0275)" font-size="25.0">e</text>
<text transform="translate(337.16,43.00) rotate(0.05) scale(1.1294,1.0467)" font-size="25.0">n</text>
<text transform="translate(361.57,42.74) rotate(0.05) scale(1.1355,1.0340)" font-size="25.0">fo</text>
<text transform="translate(385.16,43.00) rotate(0.05) scale(1.1294,1.0467)" font-size="25.0">n</text>
<text transform="translate(400.85,42.74) rotate(0.05) scale(1.0233,1.0275)" font-size="25.0">c</text>
<text transform="translate(415.23,42.86) rotate(0.05) scale(1.2000,1.1077)" font-size="25.0">t</text>
<text transform="translate(425.56,43.00) rotate(0.05) scale(0.8889,1.0483)" font-size="25.0">i</text>
<text transform="translate(431.91,42.74) rotate(0.05) scale(1.0947,1.0275)" font-size="25.0">o</text>
<text transform="translate(447.16,43.00) rotate(0.05) scale(1.1294,1.0467)" font-size="25.0">n</text>
<text transform="translate(470.93,42.74) rotate(0.05) scale(1.0667,1.0340)" font-size="25.0">d</text>
<text transform="translate(486.74,42.74) rotate(0.05) scale(1.1183,1.0275)" font-size="25.0">e</text>
<text transform="translate(510.21,43.00) rotate(0.05) scale(0.8972,1.0511)" font-size="25.0">P</text>
<text transform="translate(525.30,43.00) rotate(0.05) scale(1.2000,1.0467)" font-size="25.0">r</text>
<text transform="translate(534.74,42.72) rotate(0.05) scale(1.1183,1.1275)" font-size="25.0">é</text>
<text transform="translate(549.85,42.74) rotate(0.05) scale(1.0233,1.0275)" font-size="25.0">c</text>
<text transform="translate(564.56,43.00) rotate(0.05) scale(0.8889,1.0483)" font-size="25.0">i</text>
<text transform="translate(571.27,42.74) rotate(0.05) scale(1.0667,1.0270)" font-size="25.0">p</text>
<text transform="translate(587.56,43.00) rotate(0.05) scale(0.8889,1.0483)" font-size="25.0">i</text>
<text transform="translate(594.23,42.86) rotate(0.05) scale(1.2000,1.1077)" font-size="25.0">t</text>
<text transform="translate(604.03,42.74) rotate(0.05) scale(0.8627,1.0275)" font-size="25.0">a</text>
<text transform="translate(619.23,42.86) rotate(0.05) scale(1.2000,1.1077)" font-size="25.0">t</text>
<text transform="translate(629.56,43.00) rotate(0.05) scale(0.8889,1.0483)" font-size="25.0">i</text>
<text transform="translate(635.99,42.74) rotate(0.05) scale(1.0105,1.0275)" font-size="25.0">o</text>
<text transform="translate(651.32,43.00) rotate(0.05) scale(1.0353,1.0467)" font-size="25.0">n</text>
<text transform="translate(667.31,42.74) rotate(0.05) scale(0.9195,1.0275)" font-size="25.0">s</text>
<text transform="translate(316.41,692.00) rotate(0.05) scale(0.9091,1.1130)" font-size="20.83">P</text>
<text transform="translate(328.48,691.71) rotate(0.05) scale(1.1077,1.1520)" font-size="20.83">ré</text>
<text transform="translate(349.12,691.74) rotate(0.05) scale(1.0000,1.0435)" font-size="20.83">c</text>
<text transform="translate(361.53,692.00) rotate(0.05) scale(1.0667,1.0579)" font-size="20.83">i</text>
<text transform="translate(366.39,691.58) rotate(0.05) scale(1.1733,1.0407)" font-size="20.83">p</text>
<text transform="translate(380.53,692.00) rotate(0.05) scale(1.0667,1.0579)" font-size="20.83">i</text>
<text transform="translate(385.90,691.86) rotate(0.05) scale(1.2000,1.1009)" font-size="20.83">t</text>
<text transform="translate(394.19,691.74) rotate(0.05) scale(0.9302,1.0435)" font-size="20.83">a</text>
<text transform="translate(406.90,691.86) rotate(0.05) scale(1.2000,1.1009)" font-size="20.83">t</text>
<text transform="translate(415.53,692.00) rotate(0.05) scale(1.0667,1.0579)" font-size="20.83">i</text>
<text transform="translate(421.11,691.74) rotate(0.05) scale(1.0127,1.0435)" font-size="20.83">o</text>
<text transform="translate(433.45,692.00) rotate(0.05) scale(1.1268,1.0667)" font-size="20.83">n</text>
<text transform="translate(446.38,691.74) rotate(0.05) scale(1.0000,1.0549)" font-size="20.83">s</text>
<text transform="translate(464.60,690.83) rotate(0.05) scale(0.8500,0.9806)" font-size="20.83">(</text>
<text transform="translate(472.40,692.00) rotate(0.05) scale(1.1624,1.0667)" font-size="20.83">m</text>
<text transform="translate(492.40,692.00) rotate(0.05) scale(1.1624,1.0667)" font-size="20.83">m</text>
<text transform="translate(513.00,693.71) rotate(0.05) scale(1.0435,1.1707)" font-size="20.83">/</text>
<text transform="translate(519.29,692.00) rotate(0.05) scale(1.1429,1.0579)" font-size="20.83">h</text>
<text transform="translate(533.89,690.83) rotate(0.05) scale(0.9091,0.9806)" font-size="20.83">)</text>
<text transform="translate(39.00,421.92) rotate(-90) rotate(0.05) scale(1.0959,1.1130)" font-size="20.83">L</text>
<text transform="translate(38.73,410.55) rotate(-90) rotate(0.05) scale(1.1268,1.0667)" font-size="20.83">u</text>
<text transform="translate(39.00,397.60) rotate(-90) rotate(0.05) scale(1.1624,1.0667)" font-size="20.83">m</text>
<text transform="translate(39.00,376.47) rotate(-90) rotate(0.05) scale(1.0667,1.0579)" font-size="20.83">i</text>
<text transform="translate(39.00,371.55) rotate(-90) rotate(0.05) scale(1.1268,1.0667)" font-size="20.83">n</text>
<text transform="translate(38.74,357.81) rotate(-90) rotate(0.05) scale(0.9302,1.0435)" font-size="20.83">a</text>
<text transform="translate(39.00,345.55) rotate(-90) rotate(0.05) scale(1.1268,1.0667)" font-size="20.83">n</text>
<text transform="translate(38.74,331.88) rotate(-90) rotate(0.05) scale(1.0000,1.0435)" font-size="20.83">c</text>
<text transform="translate(38.74,320.99) rotate(-90) rotate(0.05) scale(1.1282,1.0435)" font-size="20.83">e</text>
<text transform="translate(37.83,301.14) rotate(-90) rotate(0.05) scale(0.9091,0.9806)" font-size="20.83">(</text>
<text transform="translate(39.00,292.47) rotate(-90) rotate(0.05) scale(1.0667,1.0579)" font-size="20.83">l</text>
<text transform="translate(39.00,287.28) rotate(-90) rotate(0.05) scale(1.1139,1.0909)" font-size="20.83">x</text>
<text transform="translate(37.83,273.44) rotate(-90) rotate(0.05) scale(0.8500,0.9806)" font-size="20.83">)</text>
<text transform="translate(938.73,473.51) rotate(-90) rotate(0.05) scale(1.0182,1.0940)" font-size="20.83">Te</text>
<text transform="translate(939.00,450.60) rotate(-90) rotate(0.05) scale(1.1624,1.0667)" font-size="20.83">m</text>
<text transform="translate(938.58,430.61) rotate(-90) rotate(0.05) scale(1.1733,1.0407)" font-size="20.83">p</text>
<text transform="translate(938.74,416.62) rotate(-90) rotate(0.05) scale(1.0000,1.0549)" font-size="20.83">s</text>
<text transform="translate(937.83,399.14) rotate(-90) rotate(0.05) scale(0.9091,0.9806)" font-size="20.83">(</text>
<text transform="translate(938.74,390.81) rotate(-90) rotate(0.05) scale(0.8500,1.0435)" font-size="20.83">a</text>
<text transform="translate(939.00,378.55) rotate(-90) rotate(0.05) scale(1.1268,1.0667)" font-size="20.83">n</text>
<text transform="translate(938.74,365.97) rotate(-90) rotate(0.05) scale(1.1111,1.0435)" font-size="20.83">c</text>
<text transform="translate(939.00,353.47) rotate(-90) rotate(0.05) scale(1.0667,1.0579)" font-size="20.83">i</text>
<text transform="translate(938.74,347.90) rotate(-90) rotate(0.05) scale(1.0256,1.0435)" font-size="20.83">e</text>
<text transform="translate(939.00,335.55) rotate(-90) rotate(0.05) scale(1.1268,1.0667)" font-size="20.83">n</text>
<text transform="translate(939.00,291.30) rotate(-90) rotate(0.05) scale(1.2000,1.0667)" font-size="20.83">r</text>
<text transform="translate(938.71,282.90) rotate(-90) rotate(0.05) scale(1.0256,1.1520)" font-size="20.83">é</text>
<text transform="translate(938.74,270.97) rotate(-90) rotate(0.05) scale(1.1111,1.0435)" font-size="20.83">c</text>
<text transform="translate(938.74,258.99) rotate(-90) rotate(0.05) scale(1.1282,1.0435)" font-size="20.83">e</text>
<text transform="translate(939.00,245.39) rotate(-90) rotate(0.05) scale(1.0141,1.0667)" font-size="20.83">n</text>
<text transform="translate(938.86,232.60) rotate(-90) rotate(0.05) scale(1.2000,1.1009)" font-size="20.83">t</text>
<text transform="translate(937.83,223.44) rotate(-90) rotate(0.05) scale(0.8500,0.9806)" font-size="20.83">)</text>
<text transform="translate(166.03,661.73) rotate(0.05) scale(1.1139,1.0847)" font-size="20.83">0</text>
<text transform="translate(242.20,661.73) rotate(0.05) scale(0.9114,1.0940)" font-size="20.83">5</text>
<text transform="translate(309.38,662.00) rotate(0.05) scale(1.0000,1.1130)" font-size="20.83">1</text>
<text transform="translate(322.11,661.73) rotate(0.05) scale(1.0127,1.0847)" font-size="20.83">0</text>
<text transform="translate(384.38,662.00) rotate(0.05) scale(1.0000,1.1130)" font-size="20.83">1</text>
<text transform="translate(397.11,661.73) rotate(0.05) scale(1.0127,1.0940)" font-size="20.83">5</text>
<text transform="translate(458.95,662.00) rotate(0.05) scale(1.0526,1.1034)" font-size="20.83">2</text>
<text transform="translate(472.11,661.73) rotate(0.05) scale(1.0127,1.0847)" font-size="20.83">0</text>
<text transform="translate(532.95,662.00) rotate(0.05) scale(1.0526,1.1034)" font-size="20.83">2</text>
<text transform="translate(546.11,661.73) rotate(0.05) scale(1.0127,1.0940)" font-size="20.83">5</text>
<text transform="translate(609.10,661.73) rotate(0.05) scale(1.0256,1.0847)" font-size="20.83">3</text>
<text transform="translate(621.11,661.73) rotate(0.05) scale(1.0127,1.0847)" font-size="20.83">0</text>
<text transform="translate(684.10,661.73) rotate(0.05) scale(1.0256,1.0847)" font-size="20.83">3</text>
<text transform="translate(696.11,661.73) rotate(0.05) scale(1.0127,1.0940)" font-size="20.83">5</text>
<text transform="translate(119.03,612.73) rotate(0.05) scale(1.1139,1.0847)" font-size="20.83">0</text>
<text transform="translate(65.95,534.00) rotate(0.05) scale(1.0526,1.1034)" font-size="20.83">2</text>
<text transform="translate(79.11,533.73) rotate(0.05) scale(1.0127,1.0847)" font-size="20.83">0</text>
<text transform="translate(92.11,533.73) rotate(0.05) scale(1.0127,1.0847)" font-size="20.83">0</text>
<text transform="translate(105.03,533.73) rotate(0.05) scale(1.1139,1.0847)" font-size="20.83">0</text>
<text transform="translate(118.03,533.73) rotate(0.05) scale(1.1139,1.0847)" font-size="20.83">0</text>
<text transform="translate(65.48,454.00) rotate(0.05) scale(1.0476,1.1130)" font-size="20.83">4</text>
<text transform="translate(79.11,453.73) rotate(0.05) scale(1.0127,1.0847)" font-size="20.83">0</text>
<text transform="translate(92.11,453.73) rotate(0.05) scale(1.0127,1.0847)" font-size="20.83">0</text>
<text transform="translate(105.03,453.73) rotate(0.05) scale(1.1139,1.0847)" font-size="20.83">0</text>
<text transform="translate(118.03,453.73) rotate(0.05) scale(1.1139,1.0847)" font-size="20.83">0</text>
<text transform="translate(65.86,374.73) rotate(0.05) scale(1.1429,1.0847)" font-size="20.83">6</text>
<text transform="translate(79.11,374.73) rotate(0.05) scale(1.0127,1.0847)" font-size="20.83">0</text>
<text transform="translate(92.03,374.73) rotate(0.05) scale(1.1139,1.0847)" font-size="20.83">0</text>
<text transform="translate(105.03,374.73) rotate(0.05) scale(1.1139,1.0847)" font-size="20.83">0</text>
<text transform="translate(118.03,374.73) rotate(0.05) scale(1.1139,1.0847)" font-size="20.83">0</text>
<text transform="translate(66.01,295.73) rotate(0.05) scale(1.1282,1.0847)" font-size="20.83">8</text>
<text transform="translate(78.03,295.73) rotate(0.05) scale(1.1139,1.0847)" font-size="20.83">0</text>
<text transform="translate(92.11,295.73) rotate(0.05) scale(1.0127,1.0847)" font-size="20.83">0</text>
<text transform="translate(105.03,295.73) rotate(0.05) scale(1.1139,1.0847)" font-size="20.83">0</text>
<text transform="translate(118.03,295.73) rotate(0.05) scale(1.1139,1.0847)" font-size="20.83">0</text>
<text transform="translate(52.38,216.00) rotate(0.05) scale(1.0000,1.1130)" font-size="20.83">1</text>
<text transform="translate(65.11,215.73) rotate(0.05) scale(1.0127,1.0847)" font-size="20.83">0</text>
<text transform="translate(78.11,215.73) rotate(0.05) scale(1.0127,1.0847)" font-size="20.83">0</text>
<text transform="translate(91.03,215.73) rotate(0.05) scale(1.1139,1.0847)" font-size="20.83">0</text>
<text transform="translate(104.03,215.73) rotate(0.05) scale(1.1139,1.0847)" font-size="20.83">0</text>
<text transform="translate(118.11,215.73) rotate(0.05) scale(1.0127,1.0847)" font-size="20.83">0</text>
<text transform="translate(52.38,137.00) rotate(0.05) scale(1.0000,1.1130)" font-size="20.83">1</text>
<text transform="translate(65.05,137.00) rotate(0.05) scale(0.9474,1.1034)" font-size="20.83">2</text>
<text transform="translate(78.11,136.73) rotate(0.05) scale(1.0127,1.0847)" font-size="20.83">0</text>
<text transform="translate(91.03,136.73) rotate(0.05) scale(1.1139,1.0847)" font-size="20.83">0</text>
<text transform="translate(104.03,136.73) rotate(0.05) scale(1.1139,1.0847)" font-size="20.83">0</text>
<text transform="translate(118.11,136.73) rotate(0.05) scale(1.0127,1.0847)" font-size="20.83">0</text>
<text transform="translate(789.95,629.00) rotate(0.05) scale(1.0526,1.1034)" font-size="20.83">2</text>
<text transform="translate(803.11,628.73) rotate(0.05) scale(1.0127,1.0847)" font-size="20.83">0</text>
<text transform="translate(815.95,629.00) rotate(0.05) scale(1.0526,1.1034)" font-size="20.83">2</text>
<text transform="translate(829.11,628.73) rotate(0.05) scale(1.0127,1.0940)" font-size="20.83">5</text>
<text transform="translate(841.98,629.85) rotate(0.05) scale(1.1707,1.2308)" font-size="20.83">-</text>
<text transform="translate(850.11,628.73) rotate(0.05) scale(1.0127,1.0847)" font-size="20.83">0</text>
<text transform="translate(863.10,628.73) rotate(0.05) scale(1.0256,1.0847)" font-size="20.83">3</text>
<text transform="translate(875.98,629.85) rotate(0.05) scale(1.1707,1.2308)" font-size="20.83">-</text>
<text transform="translate(884.38,629.00) rotate(0.05) scale(1.0000,1.1130)" font-size="20.83">1</text>
<text transform="translate(897.03,628.73) rotate(0.05) scale(1.1139,1.0847)" font-size="20.83">0</text>
<text transform="translate(790.03,651.73) rotate(0.05) scale(1.1139,1.0847)" font-size="20.83">0</text>
<text transform="translate(803.96,651.73) rotate(0.05) scale(1.0390,1.0847)" font-size="20.83">9</text>
<text transform="translate(817.12,652.00) rotate(0.05) scale(1.0000,1.0000)" font-size="20.83">:</text>
<text transform="translate(824.10,651.73) rotate(0.05) scale(1.0256,1.0847)" font-size="20.83">3</text>
<text transform="translate(837.11,651.73) rotate(0.05) scale(1.0127,1.0940)" font-size="20.83">5</text>
<text transform="translate(856.86,650.83) rotate(0.05) scale(0.9091,0.9806)" font-size="20.83">(</text>
<text transform="translate(865.48,651.73) rotate(0.05) scale(0.9362,1.0940)" font-size="20.83">U</text>
<text transform="translate(879.53,651.73) rotate(0.05) scale(0.9479,1.0847)" font-size="20.83">TC</text>
<text transform="translate(907.89,650.83) rotate(0.05) scale(0.9091,0.9806)" font-size="20.83">)</text>
<text transform="translate(789.95,485.00) rotate(0.05) scale(1.0526,1.1034)" font-size="20.83">2</text>
<text transform="translate(803.11,484.73) rotate(0.05) scale(1.0127,1.0847)" font-size="20.83">0</text>
<text transform="translate(815.95,485.00) rotate(0.05) scale(1.0526,1.1034)" font-size="20.83">2</text>
<text transform="translate(829.11,484.73) rotate(0.05) scale(1.0127,1.0940)" font-size="20.83">5</text>
<text transform="translate(841.98,485.85) rotate(0.05) scale(1.1707,1.2308)" font-size="20.83">-</text>
<text transform="translate(850.11,484.73) rotate(0.05) scale(1.0127,1.0847)" font-size="20.83">0</text>
<text transform="translate(863.11,484.73) rotate(0.05) scale(1.0127,1.0940)" font-size="20.83">5</text>
<text transform="translate(875.98,485.85) rotate(0.05) scale(1.1707,1.2308)" font-size="20.83">-</text>
<text transform="translate(884.38,485.00) rotate(0.05) scale(1.0000,1.1130)" font-size="20.83">1</text>
<text transform="translate(896.95,485.00) rotate(0.05) scale(1.0526,1.1034)" font-size="20.83">2</text>
<text transform="translate(790.03,507.73) rotate(0.05) scale(1.1139,1.0847)" font-size="20.83">0</text>
<text transform="translate(803.80,508.00) rotate(0.05) scale(1.0667,1.1130)" font-size="20.83">7</text>
<text transform="translate(817.12,508.00) rotate(0.05) scale(1.0000,1.0000)" font-size="20.83">:</text>
<text transform="translate(823.95,508.00) rotate(0.05) scale(1.0526,1.1034)" font-size="20.83">2</text>
<text transform="translate(837.38,508.00) rotate(0.05) scale(1.0000,1.1130)" font-size="20.83">1</text>
<text transform="translate(856.86,506.83) rotate(0.05) scale(0.9091,0.9806)" font-size="20.83">(</text>
<text transform="translate(865.48,507.73) rotate(0.05) scale(0.9362,1.0940)" font-size="20.83">U</text>
<text transform="translate(879.53,507.73) rotate(0.05) scale(0.9479,1.0847)" font-size="20.83">TC</text>
<text transform="translate(907.89,506.83) rotate(0.05) scale(0.9091,0.9806)" font-size="20.83">)</text>
<text transform="translate(789.95,342.00) rotate(0.05) scale(1.0526,1.1034)" font-size="20.83">2</text>
<text transform="translate(803.11,341.73) rotate(0.05) scale(1.0127,1.0847)" font-size="20.83">0</text>
<text transform="translate(815.95,342.00) rotate(0.05) scale(1.0526,1.1034)" font-size="20.83">2</text>
<text transform="translate(829.11,341.73) rotate(0.05) scale(1.0127,1.0940)" font-size="20.83">5</text>
<text transform="translate(841.98,342.85) rotate(0.05) scale(1.1707,1.2308)" font-size="20.83">-</text>
<text transform="translate(850.11,341.73) rotate(0.05) scale(1.0127,1.0847)" font-size="20.83">0</text>
<text transform="translate(862.80,342.00) rotate(0.05) scale(1.0667,1.1130)" font-size="20.83">7</text>
<text transform="translate(875.98,342.85) rotate(0.05) scale(1.1707,1.2308)" font-size="20.83">-</text>
<text transform="translate(884.38,342.00) rotate(0.05) scale(1.0000,1.1130)" font-size="20.83">1</text>
<text transform="translate(897.48,342.00) rotate(0.05) scale(1.0476,1.1130)" font-size="20.83">4</text>
<text transform="translate(790.03,364.73) rotate(0.05) scale(1.1139,1.0847)" font-size="20.83">0</text>
<text transform="translate(804.11,364.73) rotate(0.05) scale(1.0127,1.0940)" font-size="20.83">5</text>
<text transform="translate(817.12,365.00) rotate(0.05) scale(1.0000,1.0000)" font-size="20.83">:</text>
<text transform="translate(824.11,364.73) rotate(0.05) scale(1.0127,1.0847)" font-size="20.83">0</text>
<text transform="translate(837.01,364.73) rotate(0.05) scale(1.1282,1.0847)" font-size="20.83">8</text>
<text transform="translate(856.86,363.83) rotate(0.05) scale(0.9091,0.9806)" font-size="20.83">(</text>
<text transform="translate(864.34,364.73) rotate(0.05) scale(1.0213,1.0940)" font-size="20.83">U</text>
<text transform="translate(879.53,364.73) rotate(0.05) scale(0.9479,1.0847)" font-size="20.83">TC</text>
<text transform="translate(907.89,363.83) rotate(0.05) scale(0.9091,0.9806)" font-size="20.83">)</text>
<text transform="translate(789.95,198.00) rotate(0.05) scale(1.0526,1.1034)" font-size="20.83">2</text>
<text transform="translate(803.11,197.73) rotate(0.05) scale(1.0127,1.0847)" font-size="20.83">0</text>
<text transform="translate(815.95,198.00) rotate(0.05) scale(1.0526,1.1034)" font-size="20.83">2</text>
<text transform="translate(829.11,197.73) rotate(0.05) scale(1.0127,1.0940)" font-size="20.83">5</text>
<text transform="translate(841.98,198.85) rotate(0.05) scale(1.1707,1.2308)" font-size="20.83">-</text>
<text transform="translate(850.11,197.73) rotate(0.05) scale(1.0127,1.0847)" font-size="20.83">0</text>
<text transform="translate(862.86,197.73) rotate(0.05) scale(1.1429,1.0847)" font-size="20.83">9</text>
<text transform="translate(875.98,198.85) rotate(0.05) scale(1.1707,1.2308)" font-size="20.83">-</text>
<text transform="translate(884.38,198.00) rotate(0.05) scale(1.0000,1.1130)" font-size="20.83">1</text>
<text transform="translate(897.11,197.73) rotate(0.05) scale(1.0127,1.0940)" font-size="20.83">5</text>
<text transform="translate(790.03,220.73) rotate(0.05) scale(1.1139,1.0847)" font-size="20.83">0</text>
<text transform="translate(804.05,221.00) rotate(0.05) scale(0.9474,1.1034)" font-size="20.83">2</text>
<text transform="translate(817.12,221.00) rotate(0.05) scale(1.0000,1.0000)" font-size="20.83">:</text>
<text transform="translate(824.11,220.73) rotate(0.05) scale(1.0127,1.0940)" font-size="20.83">5</text>
<text transform="translate(837.48,221.00) rotate(0.05) scale(1.0476,1.1130)" font-size="20.83">4</text>
<text transform="translate(856.86,219.83) rotate(0.05) scale(0.9091,0.9806)" font-size="20.83">(</text>
<text transform="translate(865.48,220.73) rotate(0.05) scale(0.9362,1.0940)" font-size="20.83">U</text>
<text transform="translate(879.53,220.73) rotate(0.05) scale(0.9479,1.0847)" font-size="20.83">TC</text>
<text transform="translate(907.89,219.83) rotate(0.05) scale(0.9091,0.9806)" font-size="20.83">)</text>
<text transform="translate(789.95,54.00) rotate(0.05) scale(1.0526,1.1034)" font-size="20.83">2</text>
<text transform="translate(803.11,53.73) rotate(0.05) scale(1.0127,1.0847)" font-size="20.83">0</text>
<text transform="translate(815.95,54.00) rotate(0.05) scale(1.0526,1.1034)" font-size="20.83">2</text>
<text transform="translate(829.11,53.73) rotate(0.05) scale(1.0127,1.0940)" font-size="20.83">5</text>
<text transform="translate(841.98,54.85) rotate(0.05) scale(1.1707,1.2308)" font-size="20.83">-</text>
<text transform="translate(850.38,54.00) rotate(0.05) scale(1.0000,1.1130)" font-size="20.83">1</text>
<text transform="translate(863.38,54.00) rotate(0.05) scale(1.0000,1.1130)" font-size="20.83">1</text>
<text transform="translate(875.98,54.85) rotate(0.05) scale(1.1707,1.2308)" font-size="20.83">-</text>
<text transform="translate(884.38,54.00) rotate(0.05) scale(1.0000,1.1130)" font-size="20.83">1</text>
<text transform="translate(896.80,54.00) rotate(0.05) scale(1.0667,1.1130)" font-size="20.83">7</text>
<text transform="translate(790.03,76.73) rotate(0.05) scale(1.1139,1.0847)" font-size="20.83">0</text>
<text transform="translate(804.11,76.73) rotate(0.05) scale(1.0127,1.0847)" font-size="20.83">0</text>
<text transform="translate(817.12,77.00) rotate(0.05) scale(1.0000,1.0000)" font-size="20.83">:</text>
<text transform="translate(823.43,77.00) rotate(0.05) scale(1.1429,1.1130)" font-size="20.83">4</text>
<text transform="translate(837.38,77.00) rotate(0.05) scale(1.0000,1.1130)" font-size="20.83">1</text>
<text transform="translate(856.86,75.83) rotate(0.05) scale(0.9091,0.9806)" font-size="20.83">(</text>
<text transform="translate(865.48,76.73) rotate(0.05) scale(0.9362,1.0940)" font-size="20.83">U</text>
<text transform="translate(879.53,76.73) rotate(0.05) scale(0.9479,1.0847)" font-size="20.83">TC</text>
<text transform="translate(907.89,75.83) rotate(0.05) scale(0.9091,0.9806)" font-size="20.83">)</text>
</svg></body></html>
